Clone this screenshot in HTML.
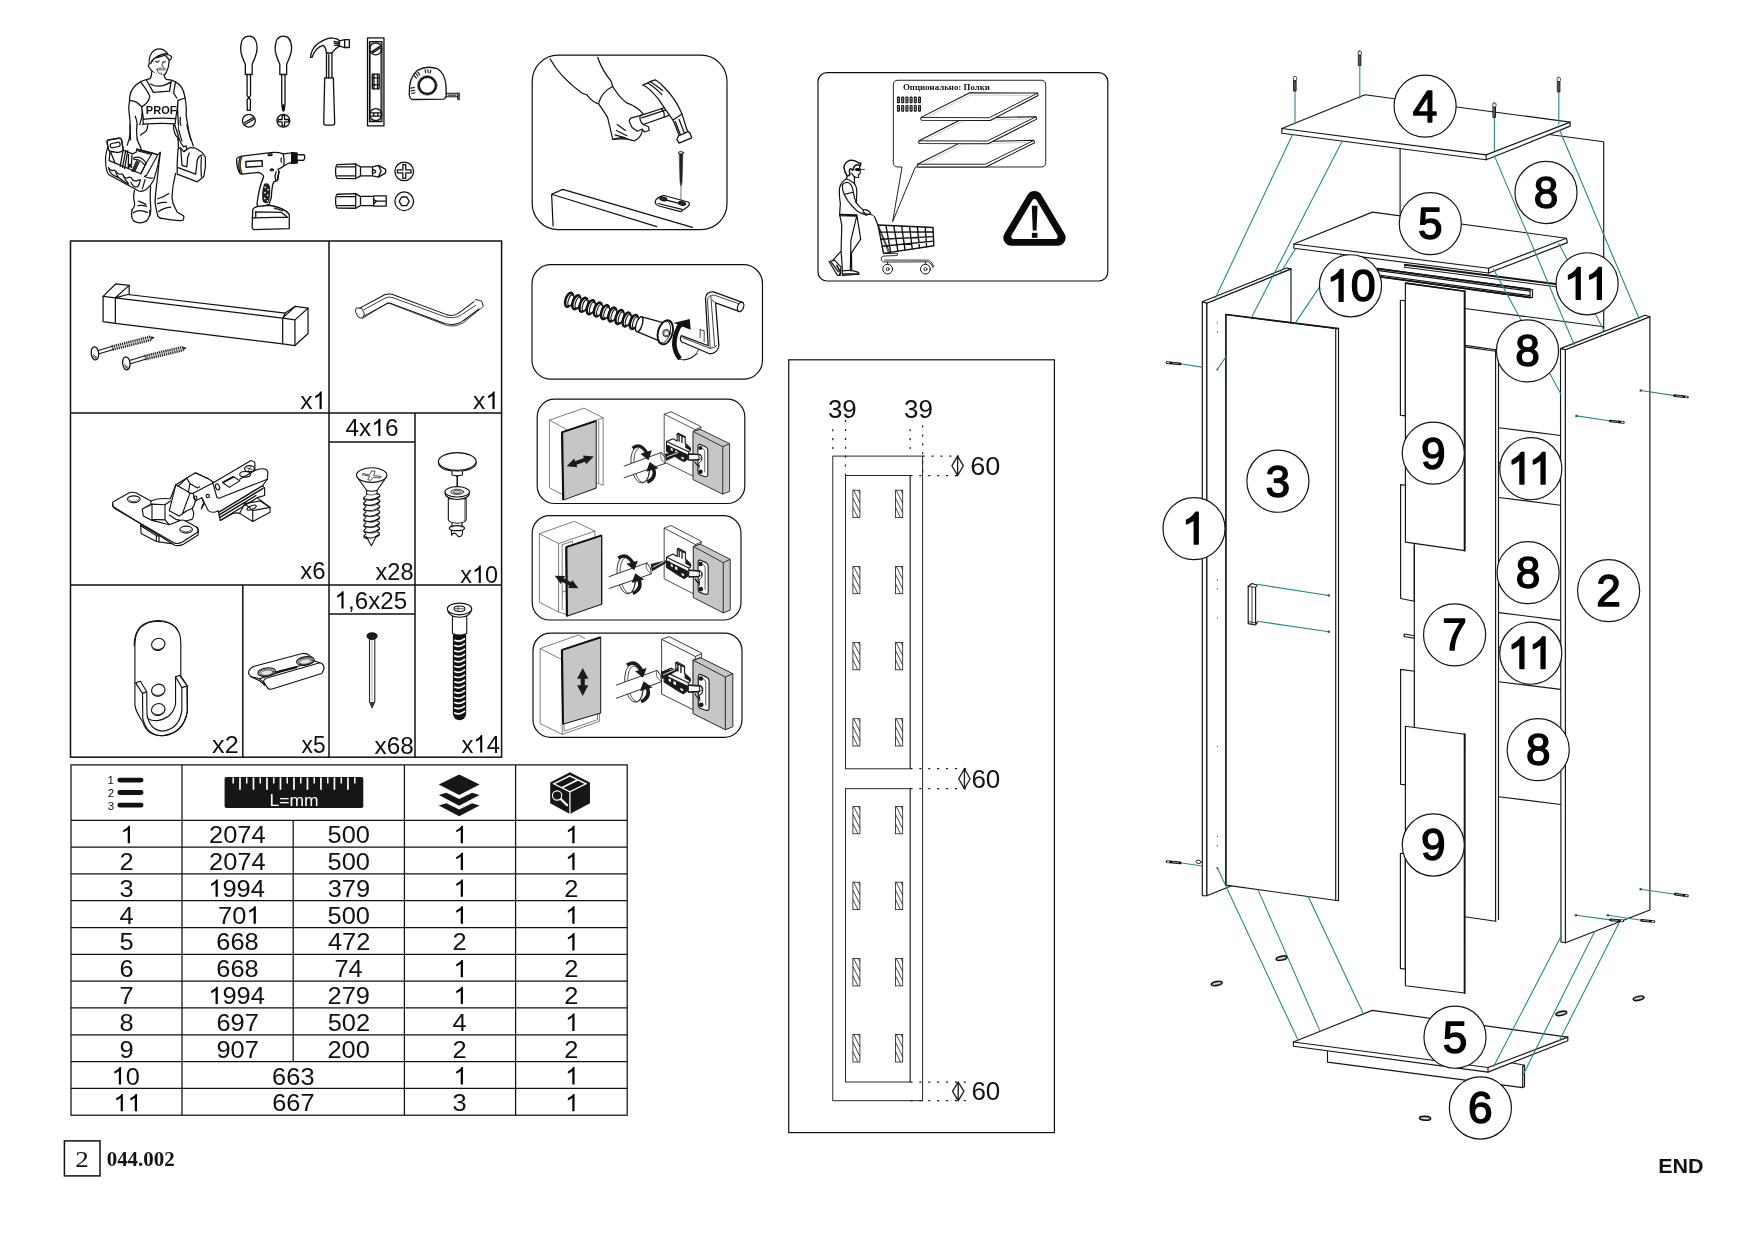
<!DOCTYPE html>
<html><head><meta charset="utf-8"><title>044.002</title>
<style>
html,body{margin:0;padding:0;background:#fff;}
body{width:1754px;height:1241px;overflow:hidden;}
svg{display:block;position:absolute;left:0;top:0;will-change:transform;}
text{font-family:"Liberation Sans",sans-serif;fill:#111;}
.s{font-family:"Liberation Serif",serif;}
.k{fill:none;stroke:#111;stroke-width:1.2;stroke-linejoin:round;stroke-linecap:round;}
.t{fill:none;stroke:#111;stroke-width:2;}
.w{fill:#fff;stroke:#111;stroke-width:1.2;stroke-linejoin:round;}
</style></head><body>
<svg width="1754" height="1241" viewBox="0 0 1754 1241">
<rect width="1754" height="1241" fill="#fff"/>
<g id="hw" fill="none" stroke="#111" stroke-width="1.5">
<rect x="70.5" y="241" width="431.1" height="516.2"/>
<path d="M70.5 413H501.6M70.5 584.9H501.6M329 241V757.2M415 413V757.2M242.8 584.8V757.2"/>
<path d="M329 442H415M329 614H415" stroke-width="1.3"/>
</g>
<g transform="translate(300.19 409.00) scale(1.019 1)"><text x="0.00" y="0" font-size="24.2">x</text><path transform="translate(12.10 0) scale(0.01182 -0.01182)" d="M763 0H583V1147Q518 1085 412.5 1023T223 930V1104Q373 1174.5 485.5 1275T645 1470H763Z"/></g>
<g transform="translate(473.09 409.00) scale(1.019 1)"><text x="0.00" y="0" font-size="24.2">x</text><path transform="translate(12.10 0) scale(0.01182 -0.01182)" d="M763 0H583V1147Q518 1085 412.5 1023T223 930V1104Q373 1174.5 485.5 1275T645 1470H763Z"/></g>
<g transform="translate(300.20 578.50) scale(0.992 1)"><text x="0.00 12.10" y="0" font-size="24.2">x6</text></g>
<g transform="translate(375.51 579.90) scale(0.975 1)"><text x="0.00 12.10 25.56" y="0" font-size="24.2">x28</text></g>
<g transform="translate(460.31 583.00) scale(0.971 1)"><text x="0.00" y="0" font-size="24.2">x</text><path transform="translate(12.10 0) scale(0.01182 -0.01182)" d="M763 0H583V1147Q518 1085 412.5 1023T223 930V1104Q373 1174.5 485.5 1275T645 1470H763Z"/><text x="25.56" y="0" font-size="24.2">0</text></g>
<g transform="translate(212.09 753.20) scale(1.041 1)"><text x="0.00 12.10" y="0" font-size="24.2">x2</text></g>
<g transform="translate(301.52 753.20) scale(0.940 1)"><text x="0.00 12.10" y="0" font-size="24.2">x5</text></g>
<g transform="translate(374.50 753.80) scale(1.004 1)"><text x="0.00 12.10 25.56" y="0" font-size="24.2">x68</text></g>
<g transform="translate(461.50 752.50) scale(0.984 1)"><text x="0.00" y="0" font-size="24.2">x</text><path transform="translate(12.10 0) scale(0.01182 -0.01182)" d="M763 0H583V1147Q518 1085 412.5 1023T223 930V1104Q373 1174.5 485.5 1275T645 1470H763Z"/><text x="25.56" y="0" font-size="24.2">4</text></g>
<g transform="translate(345.55 436.10) scale(1.008 1)"><text x="0.00 13.46" y="0" font-size="24.2">4x</text><path transform="translate(25.56 0) scale(0.01182 -0.01182)" d="M763 0H583V1147Q518 1085 412.5 1023T223 930V1104Q373 1174.5 485.5 1275T645 1470H763Z"/><text x="39.02" y="0" font-size="24.2">6</text></g>
<g transform="translate(334.57 608.60) scale(1.000 1)"><path transform="translate(0.00 0) scale(0.01182 -0.01182)" d="M763 0H583V1147Q518 1085 412.5 1023T223 930V1104Q373 1174.5 485.5 1275T645 1470H763Z"/><text x="13.46 20.18 33.64 45.74 59.20" y="0" font-size="24.2">,6x25</text></g>
<g id="pt" fill="none" stroke="#111" stroke-width="1.25">
<rect x="71.0" y="764.9" width="556.2" height="350.31"/>
<path d="M182 764.9V1115.21M404.4 764.9V1115.21M515.6 764.9V1115.21M293.2 820.3V1061.59M71.0 820.30H627.2M71.0 847.11H627.2M71.0 873.92H627.2M71.0 900.73H627.2M71.0 927.54H627.2M71.0 954.35H627.2M71.0 981.16H627.2M71.0 1007.97H627.2M71.0 1034.78H627.2M71.0 1061.59H627.2M71.0 1088.40H627.2"/>
</g>
<g transform="translate(120.48 843.21) scale(1.050 1)"><path transform="translate(0.00 0) scale(0.01182 -0.01182)" d="M763 0H583V1147Q518 1085 412.5 1023T223 930V1104Q373 1174.5 485.5 1275T645 1470H763Z"/></g>
<g transform="translate(209.06 843.21) scale(1.050 1)"><text x="0.00 13.46 26.92 40.38" y="0" font-size="24.2">2074</text></g>
<g transform="translate(327.59 843.21) scale(1.050 1)"><text x="0.00 13.46 26.92" y="0" font-size="24.2">500</text></g>
<g transform="translate(453.48 843.21) scale(1.050 1)"><path transform="translate(0.00 0) scale(0.01182 -0.01182)" d="M763 0H583V1147Q518 1085 412.5 1023T223 930V1104Q373 1174.5 485.5 1275T645 1470H763Z"/></g>
<g transform="translate(565.08 843.21) scale(1.050 1)"><path transform="translate(0.00 0) scale(0.01182 -0.01182)" d="M763 0H583V1147Q518 1085 412.5 1023T223 930V1104Q373 1174.5 485.5 1275T645 1470H763Z"/></g>
<g transform="translate(119.55 870.02) scale(1.050 1)"><text x="0.00" y="0" font-size="24.2">2</text></g>
<g transform="translate(209.06 870.02) scale(1.050 1)"><text x="0.00 13.46 26.92 40.38" y="0" font-size="24.2">2074</text></g>
<g transform="translate(327.59 870.02) scale(1.050 1)"><text x="0.00 13.46 26.92" y="0" font-size="24.2">500</text></g>
<g transform="translate(453.48 870.02) scale(1.050 1)"><path transform="translate(0.00 0) scale(0.01182 -0.01182)" d="M763 0H583V1147Q518 1085 412.5 1023T223 930V1104Q373 1174.5 485.5 1275T645 1470H763Z"/></g>
<g transform="translate(565.08 870.02) scale(1.050 1)"><path transform="translate(0.00 0) scale(0.01182 -0.01182)" d="M763 0H583V1147Q518 1085 412.5 1023T223 930V1104Q373 1174.5 485.5 1275T645 1470H763Z"/></g>
<g transform="translate(119.61 896.83) scale(1.050 1)"><text x="0.00" y="0" font-size="24.2">3</text></g>
<g transform="translate(208.32 896.83) scale(1.050 1)"><path transform="translate(0.00 0) scale(0.01182 -0.01182)" d="M763 0H583V1147Q518 1085 412.5 1023T223 930V1104Q373 1174.5 485.5 1275T645 1470H763Z"/><text x="13.46 26.92 40.38" y="0" font-size="24.2">994</text></g>
<g transform="translate(327.71 896.83) scale(1.050 1)"><text x="0.00 13.46 26.92" y="0" font-size="24.2">379</text></g>
<g transform="translate(453.48 896.83) scale(1.050 1)"><path transform="translate(0.00 0) scale(0.01182 -0.01182)" d="M763 0H583V1147Q518 1085 412.5 1023T223 930V1104Q373 1174.5 485.5 1275T645 1470H763Z"/></g>
<g transform="translate(564.15 896.83) scale(1.050 1)"><text x="0.00" y="0" font-size="24.2">2</text></g>
<g transform="translate(119.61 923.64) scale(1.050 1)"><text x="0.00" y="0" font-size="24.2">4</text></g>
<g transform="translate(218.10 923.64) scale(1.050 1)"><text x="0.00 13.46" y="0" font-size="24.2">70</text><path transform="translate(26.92 0) scale(0.01182 -0.01182)" d="M763 0H583V1147Q518 1085 412.5 1023T223 930V1104Q373 1174.5 485.5 1275T645 1470H763Z"/></g>
<g transform="translate(327.59 923.64) scale(1.050 1)"><text x="0.00 13.46 26.92" y="0" font-size="24.2">500</text></g>
<g transform="translate(453.48 923.64) scale(1.050 1)"><path transform="translate(0.00 0) scale(0.01182 -0.01182)" d="M763 0H583V1147Q518 1085 412.5 1023T223 930V1104Q373 1174.5 485.5 1275T645 1470H763Z"/></g>
<g transform="translate(565.08 923.64) scale(1.050 1)"><path transform="translate(0.00 0) scale(0.01182 -0.01182)" d="M763 0H583V1147Q518 1085 412.5 1023T223 930V1104Q373 1174.5 485.5 1275T645 1470H763Z"/></g>
<g transform="translate(119.55 950.45) scale(1.050 1)"><text x="0.00" y="0" font-size="24.2">5</text></g>
<g transform="translate(216.32 950.45) scale(1.050 1)"><text x="0.00 13.46 26.92" y="0" font-size="24.2">668</text></g>
<g transform="translate(327.97 950.45) scale(1.050 1)"><text x="0.00 13.46 26.92" y="0" font-size="24.2">472</text></g>
<g transform="translate(452.55 950.45) scale(1.050 1)"><text x="0.00" y="0" font-size="24.2">2</text></g>
<g transform="translate(565.08 950.45) scale(1.050 1)"><path transform="translate(0.00 0) scale(0.01182 -0.01182)" d="M763 0H583V1147Q518 1085 412.5 1023T223 930V1104Q373 1174.5 485.5 1275T645 1470H763Z"/></g>
<g transform="translate(119.45 977.26) scale(1.050 1)"><text x="0.00" y="0" font-size="24.2">6</text></g>
<g transform="translate(216.32 977.26) scale(1.050 1)"><text x="0.00 13.46 26.92" y="0" font-size="24.2">668</text></g>
<g transform="translate(334.40 977.26) scale(1.050 1)"><text x="0.00 13.46" y="0" font-size="24.2">74</text></g>
<g transform="translate(453.48 977.26) scale(1.050 1)"><path transform="translate(0.00 0) scale(0.01182 -0.01182)" d="M763 0H583V1147Q518 1085 412.5 1023T223 930V1104Q373 1174.5 485.5 1275T645 1470H763Z"/></g>
<g transform="translate(564.15 977.26) scale(1.050 1)"><text x="0.00" y="0" font-size="24.2">2</text></g>
<g transform="translate(119.55 1004.07) scale(1.050 1)"><text x="0.00" y="0" font-size="24.2">7</text></g>
<g transform="translate(208.32 1004.07) scale(1.050 1)"><path transform="translate(0.00 0) scale(0.01182 -0.01182)" d="M763 0H583V1147Q518 1085 412.5 1023T223 930V1104Q373 1174.5 485.5 1275T645 1470H763Z"/><text x="13.46 26.92 40.38" y="0" font-size="24.2">994</text></g>
<g transform="translate(327.55 1004.07) scale(1.050 1)"><text x="0.00 13.46 26.92" y="0" font-size="24.2">279</text></g>
<g transform="translate(453.48 1004.07) scale(1.050 1)"><path transform="translate(0.00 0) scale(0.01182 -0.01182)" d="M763 0H583V1147Q518 1085 412.5 1023T223 930V1104Q373 1174.5 485.5 1275T645 1470H763Z"/></g>
<g transform="translate(564.15 1004.07) scale(1.050 1)"><text x="0.00" y="0" font-size="24.2">2</text></g>
<g transform="translate(119.55 1030.88) scale(1.050 1)"><text x="0.00" y="0" font-size="24.2">8</text></g>
<g transform="translate(216.42 1030.88) scale(1.050 1)"><text x="0.00 13.46 26.92" y="0" font-size="24.2">697</text></g>
<g transform="translate(327.74 1030.88) scale(1.050 1)"><text x="0.00 13.46 26.92" y="0" font-size="24.2">502</text></g>
<g transform="translate(452.61 1030.88) scale(1.050 1)"><text x="0.00" y="0" font-size="24.2">4</text></g>
<g transform="translate(565.08 1030.88) scale(1.050 1)"><path transform="translate(0.00 0) scale(0.01182 -0.01182)" d="M763 0H583V1147Q518 1085 412.5 1023T223 930V1104Q373 1174.5 485.5 1275T645 1470H763Z"/></g>
<g transform="translate(119.52 1057.69) scale(1.050 1)"><text x="0.00" y="0" font-size="24.2">9</text></g>
<g transform="translate(216.45 1057.69) scale(1.050 1)"><text x="0.00 13.46 26.92" y="0" font-size="24.2">907</text></g>
<g transform="translate(327.46 1057.69) scale(1.050 1)"><text x="0.00 13.46 26.92" y="0" font-size="24.2">200</text></g>
<g transform="translate(452.55 1057.69) scale(1.050 1)"><text x="0.00" y="0" font-size="24.2">2</text></g>
<g transform="translate(564.15 1057.69) scale(1.050 1)"><text x="0.00" y="0" font-size="24.2">2</text></g>
<g transform="translate(111.58 1084.50) scale(1.050 1)"><path transform="translate(0.00 0) scale(0.01182 -0.01182)" d="M763 0H583V1147Q518 1085 412.5 1023T223 930V1104Q373 1174.5 485.5 1275T645 1470H763Z"/><text x="13.46" y="0" font-size="24.2">0</text></g>
<g transform="translate(272.12 1084.50) scale(1.050 1)"><text x="0.00 13.46 26.92" y="0" font-size="24.2">663</text></g>
<g transform="translate(453.48 1084.50) scale(1.050 1)"><path transform="translate(0.00 0) scale(0.01182 -0.01182)" d="M763 0H583V1147Q518 1085 412.5 1023T223 930V1104Q373 1174.5 485.5 1275T645 1470H763Z"/></g>
<g transform="translate(565.08 1084.50) scale(1.050 1)"><path transform="translate(0.00 0) scale(0.01182 -0.01182)" d="M763 0H583V1147Q518 1085 412.5 1023T223 930V1104Q373 1174.5 485.5 1275T645 1470H763Z"/></g>
<g transform="translate(113.42 1111.31) scale(1.050 1)"><path transform="translate(0.00 0) scale(0.01182 -0.01182)" d="M763 0H583V1147Q518 1085 412.5 1023T223 930V1104Q373 1174.5 485.5 1275T645 1470H763Z"/><path transform="translate(13.46 0) scale(0.01182 -0.01182)" d="M763 0H583V1147Q518 1085 412.5 1023T223 930V1104Q373 1174.5 485.5 1275T645 1470H763Z"/></g>
<g transform="translate(272.22 1111.31) scale(1.050 1)"><text x="0.00 13.46 26.92" y="0" font-size="24.2">667</text></g>
<g transform="translate(452.61 1111.31) scale(1.050 1)"><text x="0.00" y="0" font-size="24.2">3</text></g>
<g transform="translate(565.08 1111.31) scale(1.050 1)"><path transform="translate(0.00 0) scale(0.01182 -0.01182)" d="M763 0H583V1147Q518 1085 412.5 1023T223 930V1104Q373 1174.5 485.5 1275T645 1470H763Z"/></g>
<g stroke="#111" stroke-width="4.8" stroke-linecap="round"><path d="M119.8 780.1H141.1M119.8 792.5H141.1M119.8 805.2H141.1"/></g>
<text x="107.55" y="783.50" font-size="11.5">1</text>
<text x="107.71" y="796.60" font-size="11.5">2</text>
<text x="107.74" y="809.50" font-size="11.5">3</text>
<rect x="224.6" y="777" width="138.7" height="31.1" rx="1.8" fill="#161616"/>
<path d="M240.00 777.6V789.8M253.49 777.6V789.8M266.98 777.6V789.8M280.47 777.6V789.8M293.96 777.6V789.8M307.45 777.6V789.8M320.94 777.6V789.8M334.43 777.6V789.8M347.92 777.6V789.8" stroke="#fff" stroke-width="1.7" fill="none"/>
<path d="M233.20 777.6V783.4M246.71 777.6V783.4M260.22 777.6V783.4M273.73 777.6V783.4M287.24 777.6V783.4M300.75 777.6V783.4M314.26 777.6V783.4M327.77 777.6V783.4M341.28 777.6V783.4M354.79 777.6V783.4" stroke="#fff" stroke-width="1.5" fill="none"/>
<text transform="translate(269.51 805.70) scale(1.048 1)" font-size="16.7" style="fill:#fff">L=mm</text>
<g fill="#161616"><path d="M459.2 774.4L479.6 784.4L459.2 795.1L438.8 784.4Z"/><path d="M438.8 795.1L446.4 792.8L459.2 799.1L472.1 792.8L479.6 795.1L459.2 805.8Z"/><path d="M438.8 805.5L446.4 803.3L459.2 809.5L472.1 803.3L479.6 805.5L459.2 816.2Z"/></g>
<g transform="translate(410 765) scale(0.12542)"><path d="M1275 58L1435 140V305L1275 390L1118 305V140Z" fill="#161616"/><g fill="none" stroke="#fff" stroke-width="11"><path d="M1275 215V392" stroke-width="10"/><path d="M1275 86L1403 150L1275 214L1147 150Z"/><path d="M1211 182L1339 118" stroke-width="13"/><circle cx="1173" cy="243" r="37" stroke-width="9"/><path d="M1203 272L1252 320" stroke-width="17" stroke-linecap="round"/></g></g>
<rect x="64.4" y="1140.9" width="35.6" height="35" fill="none" stroke="#111" stroke-width="1.5"/>
<text class="s" transform="translate(75.25 1167.10) scale(1.177 1)" font-size="23">2</text>
<text class="s" x="106.72" y="1166.30" font-size="20.9" font-weight="bold">044.002</text>
<text transform="translate(1658.15 1173.00) scale(1.085 1)" font-size="19.8" font-weight="bold">END</text>
<g fill="none" stroke="#111" stroke-width="1.2">
<rect x="532.2" y="55.2" width="194.8" height="174.4" rx="26"/>
<rect x="532" y="264.7" width="230.5" height="114.5" rx="19"/>
<rect x="537.2" y="399.2" width="207.6" height="104.3" rx="17.5"/>
<rect x="532.2" y="515.6" width="208.8" height="104.4" rx="17.5"/>
<rect x="533" y="633.1" width="209.0" height="104.2" rx="17.5"/>
<rect x="818" y="72.6" width="289.8" height="208.4" rx="9"/>
<rect x="788.7" y="359.8" width="265.7" height="772.8"/>
</g>
<g transform="translate(95 40) scale(0.08058)" fill="none" stroke="#111" stroke-width="15.5" stroke-linejoin="round" stroke-linecap="round">
<path d="M672 300Q662 180 740 125Q800 95 850 122Q890 148 905 180Q945 190 952 214Q946 246 922 250Q918 340 885 400Q868 442 820 452Q770 440 715 395Q690 372 660 320Z" fill="#fff"/>
<path d="M700 262Q780 178 880 168M905 182Q880 185 735 228L690 292M922 250Q905 222 872 192"/>
<path d="M745 268L800 260M760 276Q775 288 792 272M846 268Q860 260 876 268M850 282L868 282M838 275L832 322L850 330" stroke-width="9"/>
<path d="M760 366Q790 345 830 348Q865 345 880 360M790 372L865 370M768 366Q775 412 822 432M820 408L826 440" stroke-width="9"/>
<path d="M703 395Q706 450 685 480Q600 500 565 520Q450 580 432 700L428 755Q410 850 425 920Q440 1000 435 1100L440 1300L520 1300L545 1100Q560 1020 580 960L600 975L595 985L600 1045L560 1100L520 1300L1060 1300L1040 1060L995 1040L1000 985Q1020 870 1030 750Q1020 850 1030 960Q1040 1050 1030 1120L1010 1200L1190 1300L1165 1140Q1150 1050 1130 930Q1140 850 1118 720L1112 690Q1090 570 1000 520Q960 495 885 490Q865 470 860 445" fill="#fff" stroke="none"/>
<path d="M703 395Q706 450 685 480Q600 500 565 520Q450 580 432 700L428 755Q410 850 425 920Q440 1000 435 1100L440 1241"/>
<path d="M860 445Q865 470 885 490Q960 495 1000 520Q1090 570 1112 690L1118 720L1030 750"/>
<path d="M570 525Q660 640 680 700Q665 780 580 830M640 500L725 650L925 635L945 510M690 545Q800 612 945 520M1000 520Q985 600 975 660L1015 720M428 755Q500 740 580 830"/>
<path d="M580 830Q590 900 580 960Q560 1020 545 1100L520 1241M500 945Q520 1000 525 1060M580 830L600 975"/>
<path d="M1118 720Q1140 850 1130 930Q1150 1050 1165 1140L1190 1241M1030 750Q1020 850 1030 960Q1040 1050 1030 1120M1060 960Q1050 1020 1065 1060M1030 750Q1020 870 1000 985"/>
<path d="M595 985Q800 960 1000 975L995 1040Q800 1030 600 1045Z" fill="#fff"/>
<path d="M600 1045L560 1100L520 1241M655 1065Q650 1110 635 1135L565 1175M985 1050Q980 1100 990 1150L1030 1241"/>
</g>
<text transform="translate(145.86 114.10) scale(0.967 1)" font-size="11.4" font-weight="bold">PROF</text>
<g transform="translate(95 125) scale(0.08058)" fill="none" stroke="#111" stroke-width="15.5" stroke-linejoin="round" stroke-linecap="round">
<path d="M520 0L490 810Q470 900 490 960Q500 1010 460 1050Q440 1150 480 1190Q560 1240 640 1190Q690 1130 680 1060L690 1000Q680 900 745 960Q760 1060 780 1130Q800 1160 830 1160Q960 1190 1090 1185Q1110 1150 1100 1130L1020 1080L1000 1040Q960 980 955 900Q960 750 1000 600L1030 0Z" fill="#fff" stroke="none"/>
<path d="M435 0Q445 100 425 170L400 250M520 0Q510 120 530 200Q560 260 575 300M655 0Q650 50 635 75L565 125"/>
<path d="M1020 470L1030 300L1060 280L1100 330L1180 280L1240 285Q1340 330 1370 400Q1380 520 1350 640L1270 705L1020 610Z" fill="#fff"/>
<path d="M1065 300L1080 500L1140 520L1150 400L1170 350M1030 530L1250 610L1270 430Q1290 380 1330 370M1320 400Q1310 520 1320 640M1100 270L1130 260L1140 300L1110 330"/>
<path d="M1140 0Q1160 100 1200 200L1220 260M975 0Q970 80 1010 140L1040 160Q1060 230 1100 270M1040 60Q1060 150 1080 200M990 0L1030 120L1035 290"/>
<path d="M490 810Q470 900 490 960Q500 1010 460 1050M690 760Q680 900 690 1000Q700 1080 680 1130M810 340Q790 500 770 700Q750 850 745 960Q760 1060 780 1130M1000 600Q960 750 955 900Q960 980 1000 1040L1020 1080L1100 1130"/>
<path d="M780 915Q860 890 915 850M775 975Q830 955 885 960M790 1075Q850 1030 940 1020M540 945Q590 960 630 985M535 1000Q590 990 640 1010"/>
<path d="M460 1050Q440 1150 480 1190Q560 1240 640 1190Q690 1130 680 1060M475 1090Q550 1040 650 1085M780 1130Q800 1160 830 1160Q960 1190 1090 1185Q1110 1150 1100 1130"/>
</g>
<g transform="translate(100 135) scale(0.05238)" fill="none" stroke="#111" stroke-width="22" stroke-linejoin="round" stroke-linecap="round">
<path d="M150 230Q90 400 110 560Q120 700 170 760L740 1070Q800 1090 880 1040Q960 980 1030 850L1100 600L1150 330L1100 380L1000 345L700 270L690 330L620 360L445 290L410 85Q400 58 370 60L160 95Q130 100 135 130Z" fill="#fff"/>
<path d="M135 130Q130 100 160 95L370 60Q400 58 410 85L445 290Q400 330 340 335L190 310Q165 300 160 270Z" stroke-width="26"/>
<rect x="195" y="150" width="190" height="82" rx="40" transform="rotate(-12 290 190)" stroke-width="24"/>
<path d="M190 310L175 490L780 740L880 540M200 320L290 540M440 300L385 600" stroke-width="24"/>
<path d="M490 300L430 620M530 300L470 640M545 370L540 640M610 390L600 560" stroke-width="24"/>
<path d="M545 560L600 612M600 560L545 612" stroke-width="34"/>
<path d="M640 440Q760 380 880 530L850 570Q760 450 650 470ZM700 490L610 690M750 510L660 700M725 500L635 695"/>
<path d="M700 270L1000 345L880 540M715 300L960 365M1000 345L1100 380L890 770L850 790M880 540L780 740"/>
<path d="M160 620Q190 660 230 680Q270 660 300 690Q320 740 380 750Q420 730 440 760Q450 820 520 820Q570 790 600 820Q620 880 700 880Q750 850 770 860"/>
<path d="M165 640Q200 760 300 790Q350 810 410 850M300 700Q320 800 400 850Q480 910 550 940M445 770Q470 860 540 920M590 900Q640 1010 720 990Q760 920 770 860M850 790Q920 830 1010 820M860 850L810 1030"/>
</g>
<g transform="translate(230 30) scale(0.13684)" fill="none" stroke="#111" stroke-width="9.6" stroke-linejoin="round" stroke-linecap="round">
<path d="M112 325L112 250Q75 170 78 130Q82 45 138 45Q195 45 198 130Q200 170 162 250L162 325Z"/>
<path d="M125 325V480L150 510L148 588H127L125 510L150 480V325M125 480L150 510"/>
<circle cx="138" cy="663" r="47"/><path d="M104 678L170 640M108 692L174 652"/>
<path d="M112 325L112 250Q75 170 78 130Q82 45 138 45Q195 45 198 130Q200 170 162 250L162 325Z" transform="translate(252 0)"/>
<path d="M378 325V540L385 585H396L402 540V325M390 545V590" /><path d="M382 560L390 592L398 560Z" fill="#111"/>
<circle cx="390" cy="663" r="47"/><path d="M381 626H399V654H428V672H399V700H381V672H352V654H381Z"/>
<path d="M588 200Q598 92 735 58Q790 62 800 80L838 70H872V128H838L800 118Q770 132 745 168H705Q700 122 680 112Q620 132 600 200Z"/>
<path d="M800 80V118M838 70V128M760 84L800 90M762 98L800 102M765 112L800 112M705 168V350M745 168V350M722 180V350"/>
<path d="M692 350H755L765 680Q765 695 750 695H698Q685 695 685 680Z"/>
<rect x="1005" y="58" width="120" height="642"/><rect x="1020" y="85" width="90" height="585"/><rect x="1030" y="95" width="70" height="565" stroke-width="4"/>
<circle cx="1065" cy="138" r="44"/><path d="M1035 160L1095 120M1040 170L1098 132" /><circle cx="1065" cy="618" r="44"/><path d="M1030 605H1100M1030 630H1100M1050 605V630M1080 605V630"/>
<rect x="1040" y="322" width="50" height="108"/><path d="M1052 322V430M1078 322V430M1040 350H1090M1040 400H1090"/>
<path d="M1310 470Q1305 350 1370 295Q1440 255 1520 285Q1570 320 1578 400L1580 470Q1580 500 1560 505L1335 508Q1312 505 1310 470Z"/>
<circle cx="1442" cy="405" r="62" stroke-width="16"/><circle cx="1442" cy="405" r="72" stroke-width="4"/>
<path d="M1580 462H1665M1580 488H1660M1665 458V510M1675 460V510" stroke-width="8"/><path d="M1590 470H1655V482H1590Z" fill="#555" stroke="none"/>
<path d="M1425 290L1430 312M1445 290L1448 312M1468 294L1462 315M1345 332L1362 352M1358 318L1374 338M1372 308L1386 328M1320 425L1348 420M1323 445L1350 440M1328 464L1352 458" stroke-width="8"/>
</g>
<g transform="translate(230 140) scale(0.11973)" fill="none" stroke="#111" stroke-width="10.8" stroke-linejoin="round" stroke-linecap="round">
<path d="M55 160Q60 145 100 135L340 105Q400 100 445 115L500 110L520 105L560 110L565 125L615 122Q625 125 625 150L615 170L565 168L560 190L520 195L500 190L450 215Q430 235 400 245L410 265Q400 330 395 340L365 350Q350 380 345 480L325 540L240 560L225 540Q240 400 280 310Q285 290 240 270L100 285Q60 280 55 160Z" fill="#fff"/>
<path d="M100 135Q70 205 100 285" stroke="#4a3d10" stroke-width="12"/><path d="M85 145Q62 205 85 280"/>
<path d="M132 180L268 172L270 218L135 228Z" stroke-width="12"/>
<path d="M515 108L560 112V190L515 194Z" fill="#111"/>
<path d="M445 115Q455 160 450 215M385 265Q370 300 380 335L400 330Q395 300 410 265M320 118L350 116V128L320 130ZM335 250Q350 235 365 250Q350 265 335 250M430 150Q420 170 430 185"/>
<path d="M285 365Q330 350 335 400Q340 470 320 525Q280 540 270 500Q262 430 285 365Z" fill="#222" stroke="none"/>
<g fill="#fff" stroke="none"><circle cx="295" cy="395" r="7"/><circle cx="318" cy="415" r="7"/><circle cx="292" cy="440" r="7"/><circle cx="315" cy="462" r="7"/><circle cx="290" cy="488" r="7"/><circle cx="312" cy="508" r="6"/></g>
<path d="M190 580Q200 560 240 555L330 545Q450 565 495 620V740L200 748Q185 745 185 730Z" fill="#fff"/>
<path d="M185 650L480 645M210 600L430 605L480 645M215 605V640M370 570L440 590"/>
<g transform="translate(0 0)">
<path d="M895 205L1050 200L1090 225V300L1050 322L895 320Q882 310 882 260Q882 215 895 205Z" fill="#fff"/>
<path d="M895 225L1050 222M895 300L1050 300M1050 200V322"/>
<path d="M1090 225H1190L1240 212L1300 245V275L1240 310L1190 300H1090M1190 245Q1245 262 1190 280M1240 212L1262 260L1240 310M1190 225V300"/>
<circle cx="1455" cy="262" r="78"/><path d="M1444 205H1468V250H1512V274H1468V320H1444V274H1398V250H1444Z"/>
</g>
<g transform="translate(0 248)">
<path d="M895 205L1050 200L1090 225V300L1050 322L895 320Q882 310 882 260Q882 215 895 205Z" fill="#fff"/>
<path d="M895 225L1050 222M895 300L1050 300M1050 200V322"/>
<path d="M1090 222H1200V218H1305V304H1200V300H1090M1200 222V300M1200 250L1225 262H1305M1200 285L1225 262"/>
<circle cx="1455" cy="264" r="78"/><path d="M1413 264L1434 228H1476L1497 264L1476 300H1434Z"/>
</g>
</g>
<g transform="translate(80 270) scale(0.14253)" fill="none" stroke="#111" stroke-width="8.6" stroke-linejoin="round" stroke-linecap="round">
<path d="M162 185L250 98L345 108V170L335 172L1440 302L1510 255L1600 268V445L1508 530L1422 518L248 375L162 362Z" fill="#fff"/>
<path d="M162 185L248 195L345 108M248 195V375M248 195L1422 338V518M335 172L248 195M1422 338L1440 302M1422 338L1508 350L1600 268M1508 350V530M1422 338L1510 255"/>
<path d="M120 580L225 548" stroke-width="30"/><path d="M120 580L225 548" stroke="#fff" stroke-width="16"/>
<path d="M225 548L500 478" stroke="#222" stroke-width="40" stroke-dasharray="9 6" stroke-linecap="butt"/>
<path d="M225 548L500 478" stroke="#bbb" stroke-width="8" stroke-linecap="butt"/>
<path d="M495 464L525 472L501 492Z" fill="#222" stroke="none"/>
<ellipse cx="105" cy="585" rx="26" ry="46" transform="rotate(-7.1 105 585)" fill="#fff" stroke-width="9"/>
<path d="M93 593Q105 615 119 613M95 607L115 623" stroke-width="6"/>
<path d="M340 650L455 615" stroke-width="30"/><path d="M340 650L455 615" stroke="#fff" stroke-width="16"/>
<path d="M455 615L723 551" stroke="#222" stroke-width="40" stroke-dasharray="9 6" stroke-linecap="butt"/>
<path d="M455 615L723 551" stroke="#bbb" stroke-width="8" stroke-linecap="butt"/>
<path d="M718 537L748 545L724 565Z" fill="#222" stroke="none"/>
<ellipse cx="325" cy="655" rx="26" ry="46" transform="rotate(-6.6 325 655)" fill="#fff" stroke-width="9"/>
<path d="M313 663Q325 685 339 683M315 677L335 693" stroke-width="6"/>
</g>
<g transform="translate(330 270) scale(0.09980)" fill="none" stroke="#111" stroke-width="11.5" stroke-linejoin="round" stroke-linecap="round">
<path d="M300 432L560 292Q592 277 625 292L1160 492Q1240 517 1312 470L1497 332" stroke-width="100" stroke-linecap="butt"/><path d="M300 432L560 292Q592 277 625 292L1160 492Q1240 517 1312 470L1497 332" stroke="#fff" stroke-width="80" stroke-linecap="butt"/>
<path d="M340 398L552 282Q590 262 632 278L1150 468Q1240 495 1318 448L1512 318" stroke-width="8"/>
<path d="M330 482L580 328L1150 548Q1240 582 1335 530L1533 368" stroke-width="8"/>
<path d="M268 380L318 385L345 440L325 485L280 470L255 415Z" fill="#fff" stroke-width="9"/>
<path d="M1460 295L1520 310L1535 365L1497 392L1440 320Z" fill="#fff" stroke="none"/><path d="M1460 295L1520 310L1535 365" stroke-width="9"/>
</g>
<g transform="translate(100 450) scale(0.10832)" fill="none" stroke="#111" stroke-width="10.5" stroke-linejoin="round" stroke-linecap="round">
<path d="M375 690L380 770L520 845L640 862L700 870Z" fill="#fff"/><path d="M520 790V845M545 800V852M375 700L520 790L640 800"/>
<path d="M118 500Q110 480 135 470L270 395Q300 385 330 395L470 470Q540 440 650 450L700 320L880 210L1000 265L1050 300L1390 100Q1420 95 1430 120V190L1470 175Q1540 165 1550 200L1545 270L1500 330L1520 350V420L1450 440L1570 530V575L1410 660L1290 585Q1240 570 1200 600L1110 650L1095 575L1090 560Q1040 590 1000 560L940 440L880 470Q870 520 850 540Q880 590 850 640L790 655L890 710Q915 725 905 785L770 870Q730 890 690 880L118 520Z" fill="#fff"/>
<path d="M118 500Q115 530 135 540L690 860Q720 870 760 850L900 760Q915 725 890 710"/>
<path d="M470 470V500L390 545L400 610L480 650L640 690L740 650Q760 640 790 655M480 500L390 545M480 500L600 505L650 470M480 500V640M600 505V640M480 640L600 645L640 690M640 600L700 640L740 650"/>
<ellipse cx="312" cy="455" rx="58" ry="32"/><path d="M270 462Q312 495 355 462" stroke-width="7"/><ellipse cx="795" cy="735" rx="58" ry="32"/><path d="M752 742Q795 775 838 742" stroke-width="7"/>
<path d="M700 320L640 560L730 610L760 590L830 400L860 400L1050 300M700 320L830 395M720 335L800 260M800 260L830 310L900 350L920 340M830 310L815 395M880 210L1000 265M760 590Q790 560 850 540"/>
<path d="M860 400L880 470M940 440L960 500L935 545L950 500M1040 300L1080 440L1100 445L1545 270M1430 190L1290 270"/>
<circle cx="880" cy="440" r="15"/><circle cx="995" cy="425" r="15"/>
<path d="M1130 300L1230 245L1290 285L1195 345Z"/><path d="M1140 298L1232 250" stroke-width="16"/>
<ellipse cx="1380" cy="172" rx="45" ry="28"/><ellipse cx="1340" cy="225" rx="50" ry="26"/><path d="M1355 165L1405 180M1370 190L1392 155" stroke-width="7"/>
<ellipse cx="1085" cy="340" rx="18" ry="28" transform="rotate(-20 1085 340)"/>
<path d="M1095 575L1500 330M1100 598L1505 355M1108 622L1440 420" stroke-width="13"/><path d="M1110 650L1445 445"/>
<path d="M1290 585L1335 495L1480 470L1570 530M1335 495L1410 560L1570 530M1410 560V660"/>
<ellipse cx="1400" cy="532" rx="45" ry="17" transform="rotate(-22 1400 532)"/>
</g>
<g transform="translate(330 440) scale(0.10472)" fill="none" stroke="#111" stroke-width="10.5" stroke-linejoin="round" stroke-linecap="round">
<ellipse cx="398" cy="545" rx="80.0" ry="30" transform="rotate(-12 398 545)" fill="#fff"/>
<ellipse cx="398" cy="597" rx="79.5" ry="30" transform="rotate(-12 398 597)" fill="#fff"/>
<ellipse cx="398" cy="649" rx="79.0" ry="30" transform="rotate(-12 398 649)" fill="#fff"/>
<ellipse cx="398" cy="701" rx="78.5" ry="30" transform="rotate(-12 398 701)" fill="#fff"/>
<ellipse cx="398" cy="753" rx="78.0" ry="30" transform="rotate(-12 398 753)" fill="#fff"/>
<ellipse cx="398" cy="805" rx="77.5" ry="30" transform="rotate(-12 398 805)" fill="#fff"/>
<ellipse cx="398" cy="857" rx="77.0" ry="30" transform="rotate(-12 398 857)" fill="#fff"/>
<ellipse cx="398" cy="909" rx="76.5" ry="30" transform="rotate(-12 398 909)" fill="#fff"/>
<path d="M348 480V900L395 1010L448 900V480Z" fill="#fff" stroke="none"/><path d="M345 920L395 1010L442 920"/>
<path d="M322.0 559Q398 593 474.0 537" /><path d="M352 519Q410 535 446 511" stroke-width="7"/>
<path d="M322.5 611Q398 645 473.5 589" /><path d="M352 571Q410 587 446 563" stroke-width="7"/>
<path d="M323.0 663Q398 697 473.0 641" /><path d="M352 623Q410 639 446 615" stroke-width="7"/>
<path d="M323.5 715Q398 749 472.5 693" /><path d="M352 675Q410 691 446 667" stroke-width="7"/>
<path d="M324.0 767Q398 801 472.0 745" /><path d="M352 727Q410 743 446 719" stroke-width="7"/>
<path d="M324.5 819Q398 853 471.5 797" /><path d="M352 779Q410 795 446 771" stroke-width="7"/>
<path d="M325.0 871Q398 905 471.0 849" /><path d="M352 831Q410 847 446 823" stroke-width="7"/>
<path d="M325.5 923Q398 957 470.5 901" /><path d="M352 883Q410 899 446 875" stroke-width="7"/>
<path d="M258 352L350 480V520M540 352L450 480V520M350 480Q400 500 450 480" fill="none"/>
<path d="M255 345Q400 445 542 345" /><ellipse cx="398" cy="335" rx="145" ry="70" fill="#fff"/>
<path d="M318 320L375 335L400 295L430 298L418 340L490 348L480 362L415 358L385 385L360 378L378 345L312 332Z" stroke-width="7"/>
<path d="M1035 215Q1040 292 1215 300Q1390 292 1397 215" fill="#fff"/><ellipse cx="1215" cy="205" rx="180" ry="85" fill="#fff" stroke-width="11"/>
<path d="M1165 300V335Q1215 350 1265 335V300" fill="#fff"/><path d="M1215 345V450" stroke-width="15"/>
<path d="M1130 560V765Q1140 790 1215 795Q1290 790 1300 765V560Z" fill="#fff"/><path d="M1288 565V770" stroke-width="6"/>
<path d="M1098 505Q1100 560 1215 568Q1330 560 1333 505" fill="#fff"/><ellipse cx="1215" cy="495" rx="118" ry="50" fill="#fff"/>
<ellipse cx="1215" cy="495" rx="62" ry="25" fill="#ccc" stroke-width="7"/><path d="M1180 495L1198 480H1235L1250 495L1235 510H1198Z" stroke-width="6"/>
<path d="M1165 795V830M1260 795V830"/><ellipse cx="1212" cy="842" rx="72" ry="24" stroke-width="12"/>
<path d="M1160 865V908Q1190 870 1215 910Q1240 940 1265 900V865"/>
</g>
<g transform="translate(110 600) scale(0.13113)" fill="none" stroke="#111" stroke-width="8.6" stroke-linejoin="round" stroke-linecap="round">
<path d="M190 340Q190 165 370 162Q540 165 540 330V580L588 655L590 850Q560 1020 400 1035Q280 1035 250 930Q195 850 190 800Z" fill="#fff"/>
<path d="M184 350Q184 158 372 156Q470 160 515 230"/>
<ellipse cx="368" cy="338" rx="52" ry="45" transform="rotate(-20 368 338)"/><path d="M325 363Q365 396 410 360" stroke-width="6"/>
<ellipse cx="368" cy="688" rx="52" ry="45" transform="rotate(-20 368 688)"/><path d="M325 713Q365 746 410 710" stroke-width="6"/>
<ellipse cx="368" cy="835" rx="52" ry="45" transform="rotate(-20 368 835)"/><path d="M325 860Q365 893 410 857" stroke-width="6"/>
<path d="M195 632L232 620L280 700L248 712ZM500 585L532 575L588 655L548 668Z" fill="#fff"/>
<path d="M248 712L250 900Q280 1035 400 1035Q560 1020 590 850L588 655M280 700L282 870Q300 990 400 1000Q530 985 548 840V668M500 585V790Q480 900 360 920Q300 920 285 900"/>
<path d="M1060 540Q1070 515 1100 505L1460 410Q1500 400 1530 430L1560 465L1600 478Q1640 490 1630 530L1615 560L1230 680Q1205 685 1195 660L1180 640L1140 600L1075 585Q1050 570 1060 540Z" fill="#fff"/>
<path d="M1140 600L1560 465M1180 640Q1160 612 1190 597L1600 478M1265 548L1420 508M1268 556L1424 516M1075 585L1140 615L1180 650" />
<ellipse cx="1195" cy="550" rx="68" ry="32" transform="rotate(-8 1195 550)" fill="#fff"/><ellipse cx="1195" cy="554" rx="46" ry="20" transform="rotate(-8 1195 550)" fill="#e4e4e4" stroke="#444" stroke-width="6"/><ellipse cx="1195" cy="552" rx="56" ry="26" transform="rotate(-8 1195 550)" stroke-width="5"/>
<ellipse cx="1490" cy="465" rx="68" ry="32" transform="rotate(-8 1490 465)" fill="#fff"/><ellipse cx="1490" cy="469" rx="46" ry="20" transform="rotate(-8 1490 465)" fill="#e4e4e4" stroke="#444" stroke-width="6"/><ellipse cx="1490" cy="467" rx="56" ry="26" transform="rotate(-8 1490 465)" stroke-width="5"/>
</g>
<g transform="translate(330 590) scale(0.11283)" fill="none" stroke="#111" stroke-width="9.5" stroke-linejoin="round" stroke-linecap="round">
<path d="M350 435V990L373 1045L397 990V435Z" fill="#fff" stroke="#222"/><path d="M372 440V985" stroke="#888" stroke-width="6"/><path d="M355 992L373 1040L392 992Z" fill="#333" stroke="none"/>
<ellipse cx="373" cy="408" rx="45" ry="28" fill="#1a1a1a"/>
<path d="M1148 410V1095" stroke="#111" stroke-width="118"/>
<path d="M1106 446Q1150 466 1192 432" stroke="#fff" stroke-width="15"/>
<path d="M1106 492Q1150 512 1192 478" stroke="#fff" stroke-width="15"/>
<path d="M1106 538Q1150 558 1192 524" stroke="#fff" stroke-width="15"/>
<path d="M1106 584Q1150 604 1192 570" stroke="#fff" stroke-width="15"/>
<path d="M1106 630Q1150 650 1192 616" stroke="#fff" stroke-width="15"/>
<path d="M1106 676Q1150 696 1192 662" stroke="#fff" stroke-width="15"/>
<path d="M1106 722Q1150 742 1192 708" stroke="#fff" stroke-width="15"/>
<path d="M1106 768Q1150 788 1192 754" stroke="#fff" stroke-width="15"/>
<path d="M1106 814Q1150 834 1192 800" stroke="#fff" stroke-width="15"/>
<path d="M1106 860Q1150 880 1192 846" stroke="#fff" stroke-width="15"/>
<path d="M1106 906Q1150 926 1192 892" stroke="#fff" stroke-width="15"/>
<path d="M1106 952Q1150 972 1192 938" stroke="#fff" stroke-width="15"/>
<path d="M1106 998Q1150 1018 1192 984" stroke="#fff" stroke-width="15"/>
<path d="M1106 1044Q1150 1064 1192 1030" stroke="#fff" stroke-width="15"/>
<path d="M1106 1090Q1150 1110 1192 1076" stroke="#fff" stroke-width="15"/>
<path d="M1085 235V385Q1148 415 1212 385V235Z" fill="#fff"/>
<path d="M1042 180Q1060 238 1148 242Q1235 238 1255 180" fill="#fff"/><ellipse cx="1148" cy="168" rx="108" ry="52" fill="#fff" stroke-width="10"/>
<ellipse cx="1148" cy="166" rx="48" ry="24"/><path d="M1112 166H1184M1135 148V184" stroke-width="6"/>
</g>
<g id="paneldrill" fill="none" stroke="#1c1c1c" stroke-width="0.95">
<rect x="832.8" y="456.1" width="89.8" height="644.6"/>
<rect x="845.5" y="475.5" width="64.9" height="293.3"/>
<rect x="845.5" y="788.7" width="64.9" height="293.3"/>
<path d="M910.2 475.5V768.8M910.2 788.7V1082" stroke="#555" stroke-width="1.4"/>
<g stroke-dasharray="2.1 6.8" stroke-width="1.25">
<path d="M832.8 429.2V456M845.5 420V475.5M910.2 429.2V456M922.6 425.5V475"/>
<path d="M922.6 456.1H959M910.4 475.5H962M910.4 768.7H970M910.4 788.7H970M910.4 1082H970M910.4 1100.7H970"/>
</g>
<path d="M957.6 456.1L963.3000000000001 465.8L957.6 475.5L951.9 465.8ZM957.6 456.1V475.5" stroke-width="1.3"/>
<path d="M964.4 768.7L970.1 778.7L964.4 788.7L958.6999999999999 778.7ZM964.4 768.7V788.7" stroke-width="1.3"/>
<path d="M958.2 1082L963.9000000000001 1091.35L958.2 1100.7L952.5 1091.35ZM958.2 1082V1100.7" stroke-width="1.3"/>
<rect x="852.9" y="490.2" width="7.0" height="27.4" stroke-width="0.8"/>
<path d="M858.3 490.2L859.9 493.3M853.6 490.2L859.9 502.7M852.9 498.1L859.9 512.1M852.9 507.5L858.0 517.6" stroke-width="0.8"/>
<rect x="895.5" y="490.2" width="7.2" height="27.4" stroke-width="0.8"/>
<path d="M901.0 490.2L902.7 493.7M896.2 490.2L902.7 503.1M895.5 498.1L902.7 512.5M895.5 507.5L900.5 517.6" stroke-width="0.8"/>
<rect x="852.9" y="566.4" width="7.0" height="27.3" stroke-width="0.8"/>
<path d="M858.3 566.4L859.9 569.5M853.6 566.4L859.9 578.9M852.9 574.3L859.9 588.3M852.9 583.7L857.9 593.7" stroke-width="0.8"/>
<rect x="895.5" y="566.4" width="7.2" height="27.3" stroke-width="0.8"/>
<path d="M901.0 566.4L902.7 569.9M896.2 566.4L902.7 579.3M895.5 574.3L902.7 588.7M895.5 583.7L900.5 593.7" stroke-width="0.8"/>
<rect x="852.9" y="642.5" width="7.0" height="27.3" stroke-width="0.8"/>
<path d="M858.3 642.5L859.9 645.6M853.6 642.5L859.9 655.0M852.9 650.4L859.9 664.4M852.9 659.8L857.9 669.8" stroke-width="0.8"/>
<rect x="895.5" y="642.5" width="7.2" height="27.3" stroke-width="0.8"/>
<path d="M901.0 642.5L902.7 646.0M896.2 642.5L902.7 655.4M895.5 650.4L902.7 664.8M895.5 659.8L900.5 669.8" stroke-width="0.8"/>
<rect x="852.9" y="718.7" width="7.0" height="27.3" stroke-width="0.8"/>
<path d="M858.3 718.7L859.9 721.8M853.6 718.7L859.9 731.2M852.9 726.6L859.9 740.6M852.9 736.0L857.9 746.0" stroke-width="0.8"/>
<rect x="895.5" y="718.7" width="7.2" height="27.3" stroke-width="0.8"/>
<path d="M901.0 718.7L902.7 722.2M896.2 718.7L902.7 731.6M895.5 726.6L902.7 741.0M895.5 736.0L900.5 746.0" stroke-width="0.8"/>
<rect x="852.9" y="806.4" width="7.0" height="27.4" stroke-width="0.8"/>
<path d="M858.3 806.4L859.9 809.5M853.6 806.4L859.9 818.9M852.9 814.3L859.9 828.3M852.9 823.7L858.0 833.8" stroke-width="0.8"/>
<rect x="895.5" y="806.4" width="7.2" height="27.4" stroke-width="0.8"/>
<path d="M901.0 806.4L902.7 809.9M896.2 806.4L902.7 819.3M895.5 814.3L902.7 828.7M895.5 823.7L900.5 833.8" stroke-width="0.8"/>
<rect x="852.9" y="882.2" width="7.0" height="27.4" stroke-width="0.8"/>
<path d="M858.3 882.2L859.9 885.3M853.6 882.2L859.9 894.7M852.9 890.1L859.9 904.1M852.9 899.5L858.0 909.6" stroke-width="0.8"/>
<rect x="895.5" y="882.2" width="7.2" height="27.4" stroke-width="0.8"/>
<path d="M901.0 882.2L902.7 885.7M896.2 882.2L902.7 895.1M895.5 890.1L902.7 904.5M895.5 899.5L900.5 909.6" stroke-width="0.8"/>
<rect x="852.9" y="958.5" width="7.0" height="27.4" stroke-width="0.8"/>
<path d="M858.3 958.5L859.9 961.6M853.6 958.5L859.9 971.0M852.9 966.4L859.9 980.4M852.9 975.8L858.0 985.9" stroke-width="0.8"/>
<rect x="895.5" y="958.5" width="7.2" height="27.4" stroke-width="0.8"/>
<path d="M901.0 958.5L902.7 962.0M896.2 958.5L902.7 971.4M895.5 966.4L902.7 980.8M895.5 975.8L900.5 985.9" stroke-width="0.8"/>
<rect x="852.9" y="1034.4" width="7.0" height="27.6" stroke-width="0.8"/>
<path d="M858.4 1034.4L859.9 1037.5M853.6 1034.4L859.9 1046.9M852.9 1042.3L859.9 1056.3M852.9 1051.7L858.0 1062.0" stroke-width="0.8"/>
<rect x="895.5" y="1034.4" width="7.2" height="27.6" stroke-width="0.8"/>
<path d="M901.0 1034.4L902.7 1037.9M896.2 1034.4L902.7 1047.3M895.5 1042.3L902.7 1056.7M895.5 1051.7L900.6 1062.0" stroke-width="0.8"/>
</g>
<text transform="translate(827.93 417.90) scale(1.036 1)" font-size="25">39</text>
<text transform="translate(904.03 417.90) scale(1.036 1)" font-size="25">39</text>
<text transform="translate(970.25 474.70) scale(1.058 1)" font-size="25.6">60</text>
<text transform="translate(971.40 788.00) scale(1.016 1)" font-size="25.6">60</text>
<text transform="translate(971.40 1099.70) scale(1.016 1)" font-size="25.6">60</text>
<g transform="translate(990 180) scale(0.06447)">
<path d="M581.6 231.0A126 126 0 0 1 798.4 231.0L1154.2 831.3A126 126 0 0 1 1045.8 1021.5L334.2 1021.5A126 126 0 0 1 225.8 831.3Z" fill="#0a0a0a"/>
<path d="M657.3 313.1A38 38 0 0 1 722.7 313.1L1045.1 857.1A38 38 0 0 1 1012.4 914.5L367.6 914.5A38 38 0 0 1 334.9 857.1Z" fill="#fff"/>
<path d="M648 400H737L722 782H663Z" fill="#0a0a0a"/><rect x="650" y="820" width="86" height="76" fill="#0a0a0a"/>
</g>
<g transform="translate(880 70) scale(0.10263)" fill="none" stroke="#111" stroke-width="9" stroke-linejoin="round">
<path d="M215 945H175Q130 945 130 900V145Q130 100 175 100H1570Q1615 100 1615 145V900Q1615 945 1570 945H345L123 1477L215 945" stroke-width="9" fill="#fff"/>
<path d="M365 918L800 700L1500 685L1506 709L1033 945L370 945Q357 931.5 365 918Z" fill="#fff" stroke-width="10"/>
<path d="M365 918L1025 918L1500 685" stroke-width="9"/>
<path d="M440 906L808 722L1430 707" stroke="#888" stroke-width="4"/>
<path d="M380 690L815 470L1520 455L1526 479L1053 719L385 717Q372 703.5 380 690Z" fill="#fff" stroke-width="10"/>
<path d="M380 690L1045 692L1520 455" stroke-width="9"/>
<path d="M455 678L823 492L1450 477" stroke="#888" stroke-width="4"/>
<path d="M400 462L875 222L1535 225L1541 249L1073 492L405 489Q392 475.5 400 462Z" fill="#fff" stroke-width="10"/>
<path d="M400 462L1065 465L1535 225" stroke-width="9"/>
<path d="M475 450L883 244L1465 247" stroke="#888" stroke-width="4"/>
<rect x="165" y="258" width="30" height="66" rx="10" fill="#111" stroke="none"/><rect x="174" y="272" width="12" height="14" fill="#bbb" stroke="none"/><rect x="174" y="296" width="12" height="14" fill="#bbb" stroke="none"/>
<rect x="206" y="258" width="30" height="66" rx="10" fill="#111" stroke="none"/><rect x="215" y="272" width="12" height="14" fill="#bbb" stroke="none"/><rect x="215" y="296" width="12" height="14" fill="#bbb" stroke="none"/>
<rect x="247" y="258" width="30" height="66" rx="10" fill="#111" stroke="none"/><rect x="256" y="272" width="12" height="14" fill="#bbb" stroke="none"/><rect x="256" y="296" width="12" height="14" fill="#bbb" stroke="none"/>
<rect x="288" y="258" width="30" height="66" rx="10" fill="#111" stroke="none"/><rect x="297" y="272" width="12" height="14" fill="#bbb" stroke="none"/><rect x="297" y="296" width="12" height="14" fill="#bbb" stroke="none"/>
<rect x="329" y="258" width="30" height="66" rx="10" fill="#111" stroke="none"/><rect x="338" y="272" width="12" height="14" fill="#bbb" stroke="none"/><rect x="338" y="296" width="12" height="14" fill="#bbb" stroke="none"/>
<rect x="370" y="258" width="30" height="66" rx="10" fill="#111" stroke="none"/><rect x="379" y="272" width="12" height="14" fill="#bbb" stroke="none"/><rect x="379" y="296" width="12" height="14" fill="#bbb" stroke="none"/>
<rect x="165" y="340" width="30" height="66" rx="10" fill="#111" stroke="none"/><rect x="174" y="354" width="12" height="14" fill="#bbb" stroke="none"/><rect x="174" y="378" width="12" height="14" fill="#bbb" stroke="none"/>
<rect x="206" y="340" width="30" height="66" rx="10" fill="#111" stroke="none"/><rect x="215" y="354" width="12" height="14" fill="#bbb" stroke="none"/><rect x="215" y="378" width="12" height="14" fill="#bbb" stroke="none"/>
<rect x="247" y="340" width="30" height="66" rx="10" fill="#111" stroke="none"/><rect x="256" y="354" width="12" height="14" fill="#bbb" stroke="none"/><rect x="256" y="378" width="12" height="14" fill="#bbb" stroke="none"/>
<rect x="288" y="340" width="30" height="66" rx="10" fill="#111" stroke="none"/><rect x="297" y="354" width="12" height="14" fill="#bbb" stroke="none"/><rect x="297" y="378" width="12" height="14" fill="#bbb" stroke="none"/>
<rect x="329" y="340" width="30" height="66" rx="10" fill="#111" stroke="none"/><rect x="338" y="354" width="12" height="14" fill="#bbb" stroke="none"/><rect x="338" y="378" width="12" height="14" fill="#bbb" stroke="none"/>
<rect x="370" y="340" width="30" height="66" rx="10" fill="#111" stroke="none"/><rect x="379" y="354" width="12" height="14" fill="#bbb" stroke="none"/><rect x="379" y="378" width="12" height="14" fill="#bbb" stroke="none"/>
</g>
<text class="s" transform="translate(902.98 90.00) scale(1.031 1)" font-size="8.6" font-weight="bold">Опционально: Полки</text>
<g transform="translate(815 150) scale(0.10879)" fill="none" stroke="#111" stroke-width="11" stroke-linejoin="round" stroke-linecap="round">
</g>
<g transform="translate(835 155) scale(0.04836)" fill="none" stroke="#111" stroke-width="25" stroke-linejoin="round" stroke-linecap="round">
<path d="M250 430Q190 340 185 250Q200 150 290 115Q400 90 480 160L535 170L525 225L510 240L515 300Q535 340 520 380L485 410L490 460L440 465L400 460L405 590Q460 660 450 800L440 990L460 1250L95 1250L110 1000Q80 800 95 680Q120 560 235 490L255 430Z" fill="#fff" stroke="none"/>
<path d="M250 430Q190 340 185 250Q200 150 290 115Q400 90 480 160L535 170L525 225L480 200Q420 200 395 240Q380 270 375 310Q350 320 340 290Q320 270 300 300Q295 360 310 395Q290 440 250 430" stroke-width="30"/>
<path d="M510 240L515 300Q535 340 520 380L485 410L490 460L440 465Q380 450 355 400L350 380"/>
<path d="M415 300Q450 268 505 285L510 315Q460 335 415 300Z" fill="#111"/><path d="M505 296L610 298" stroke-width="16"/>
<path d="M255 430L235 490M400 460L405 590"/>
<path d="M235 490Q120 560 95 680Q80 800 110 1000L95 1250M235 490Q340 530 400 590Q460 660 450 800L440 990"/>
<path d="M150 620Q200 555 270 570Q340 600 365 700L380 770L190 815Q150 720 150 620M190 815Q260 960 360 1060L470 1170L560 1215M380 770Q400 900 440 990Q520 1090 590 1135"/>
</g>
<g transform="translate(815 150) scale(0.10879)" fill="none" stroke="#111" stroke-width="11" stroke-linejoin="round" stroke-linecap="round">
<path d="M228 592L385 597M228 603L382 607"/>
<path d="M445 552Q470 540 500 565L512 585L470 600L440 585ZM455 575L470 600" fill="#fff"/>
<path d="M228 600L246 690L240 930L165 1012M385 600L420 820L335 945L338 1105M385 600L330 830L325 1100M240 930L252 1108"/>
<path d="M130 1025L178 1012L238 1075L232 1152L205 1150ZM150 1030L215 1120M250 1112Q330 1095 400 1125L405 1142L252 1152Z" fill="#fff"/>
<path d="M200 1060L235 1125L225 1150M260 1140L400 1140" stroke-width="14"/>
<path d="M580 690L1085 712L1092 880L630 950Z" fill="#fff" stroke-width="13"/>
<path d="M652 693L696 940M724 696L762 930M796 699L828 920M869 703L894 910M941 706L960 900M1013 709L1026 890M592 755L1087 754M605 820L1088 796M618 885L1090 838" stroke-width="12.5"/>
<path d="M470 585L535 600Q552 610 560 640L690 950M545 612L680 955M630 950L760 950L755 970L625 975Q600 990 612 1015Q620 1032 650 1030L1040 1028Q1070 1040 1085 1080M640 1012L1045 1012Q1080 1030 1092 1072" stroke-width="8"/>
<circle cx="668" cy="1095" r="45" fill="#fff" stroke-width="9"/><circle cx="668" cy="1095" r="14" stroke-width="8"/>
<circle cx="1015" cy="1095" r="45" fill="#fff" stroke-width="9"/><circle cx="1015" cy="1095" r="14" stroke-width="8"/>
<path d="M668 1030V1050M1015 1030V1050" stroke-width="8"/>
</g>
<g transform="translate(655.00 405.00) scale(0.07651) translate(497 345) scale(1 1) translate(-497 -345)" stroke="#1a1a1a" stroke-width="9" stroke-linejoin="round" fill="none">
<path d="M120 120.0L210 88.0L600 282.0V312L500 345V930L120 745Z" fill="#fff" stroke-width="10"/>
<path d="M120 120.0L525 322.0L600 290.0M525 322.0V345" stroke-width="10"/>
<path d="M497 345L590 318L975 505V1130L885 1165L497 975Z" fill="#c5c6c8" stroke-width="11"/>
<path d="M497 345L885 545L975 505M885 545V1165" stroke-width="11"/>
<path d="M585 512Q560 512 560 545V880Q560 905 590 915L650 935Q690 945 690 905V590Q690 560 660 545Z" fill="#fff" stroke-width="14"/>
<path d="M610 560Q640 575 650 600V880" stroke-width="10" stroke="#333"/>
<path d="M575 640Q610 650 615 690Q615 740 570 760Q585 800 575 830" stroke-width="12"/>
<circle cx="592" cy="562" r="27" fill="#1a1a1a" stroke="none"/><circle cx="595" cy="872" r="29" fill="#1a1a1a" stroke="none"/>
<path d="M520 740Q540 790 580 800" stroke-width="14"/>
<path d="M150 478L235 440L290 470V380L305 368L395 415V500L460 560V600L440 612V700L380 740L330 715L150 600Z" fill="#fff" stroke-width="14"/>
<path d="M285 378L395 425M315 395V480M352 412V497" stroke-width="17"/>
<path d="M150 478L440 612" stroke-width="14"/>
<path d="M150 515L440 650L440 700L380 740L150 610Z" fill="#1a1a1a" stroke="none"/>
<path d="M205 560L232 573V604L205 591ZM262 590L292 604V640L262 626ZM345 672L378 688V712L345 697Z" fill="#fff" stroke="none"/>
<circle cx="172" cy="548" r="26" fill="#1a1a1a" stroke="none"/>
<path d="M395 500L470 565V600L395 560Z" fill="#1a1a1a" stroke="none"/>
<path d="M440 640L575 648V715L440 722Z" fill="#fff" stroke-width="13"/>
<path d="M440 640L575 648" stroke-width="18"/><path d="M440 722L575 715" stroke-width="16"/>
<path d="M575 648L605 665V700L575 715" stroke-width="10"/>
</g>
<g transform="translate(530 395) scale(0.12542)" stroke="#333" stroke-width="5" stroke-linejoin="round" fill="none">
<path d="M155 200L430 105L583 182V720L530 700M583 182L305 280M155 200L300 280M155 200V740L262 795M548 205V700"/>
<path d="M252 298L528 207V742L265 838Z" fill="#c5c6c8" stroke="#1a1a1a" stroke-width="8"/>
<path d="M252 298L528 207" stroke="#111" stroke-width="15"/><path d="M256 298L265 838" stroke="#111" stroke-width="17"/>
<path d="M292.0 568.0L377.9 576.7L370.5 555.9L439.6 531.3L447.0 552.0L508.0 491.0L422.1 482.3L429.5 503.1L360.4 527.7L353.0 507.0Z" fill="#1a1a1a" stroke="none"/>
</g>
<g transform="translate(530 395) scale(0.12542)" stroke="#1a1a1a" stroke-width="6" stroke-linejoin="round" stroke-linecap="round" fill="none">
<ellipse cx="880" cy="553" rx="75" ry="150" transform="rotate(-6 880 553)" stroke-width="6.5"/>
<ellipse cx="890" cy="559" rx="61" ry="140" transform="rotate(-6 880 553)" stroke-width="5.5"/>
<path d="M750 567L1048 458Q1086 496.5 1078 545L750 660Z" fill="#fff" stroke="none"/>
<path d="M750 567L1048 458Q1086 496.5 1078 545L750 660" stroke-width="7"/>
<path d="M1048 458Q1023 506.5 1078 545" stroke-width="5"/>
<path d="M1075.0 467.5L1200 450L1204 468L1085.0 525.5Z" fill="#1a1a1a" stroke="none"/>
<path d="M1095.0 491.5L1180 460" stroke="#fff" stroke-width="7"/>
<path d="M818 425Q880 370 935 470" stroke-width="27" stroke-linecap="butt"/>
<path d="M972 440L945 520L880 468Z" fill="#1a1a1a" stroke="none"/>
<path d="M935 695Q1010 660 985 590" stroke-width="27" stroke-linecap="butt"/>
<path d="M926 612L955 535L1024 584Z" fill="#1a1a1a" stroke="none"/>
</g>
<g transform="translate(655.25 520.00) scale(0.07651) translate(497 345) scale(1.01 1.06) translate(-497 -345)" stroke="#1a1a1a" stroke-width="9" stroke-linejoin="round" fill="none">
<path d="M120 120.0L210 88.0L600 282.0V312L500 345V930L120 745Z" fill="#fff" stroke-width="10"/>
<path d="M120 120.0L525 322.0L600 290.0M525 322.0V345" stroke-width="10"/>
<path d="M497 345L590 318L975 505V1130L885 1165L497 975Z" fill="#c5c6c8" stroke-width="11"/>
<path d="M497 345L885 545L975 505M885 545V1165" stroke-width="11"/>
<path d="M585 512Q560 512 560 545V880Q560 905 590 915L650 935Q690 945 690 905V590Q690 560 660 545Z" fill="#fff" stroke-width="14"/>
<path d="M610 560Q640 575 650 600V880" stroke-width="10" stroke="#333"/>
<path d="M575 640Q610 650 615 690Q615 740 570 760Q585 800 575 830" stroke-width="12"/>
<circle cx="592" cy="562" r="27" fill="#1a1a1a" stroke="none"/><circle cx="595" cy="872" r="29" fill="#1a1a1a" stroke="none"/>
<path d="M520 740Q540 790 580 800" stroke-width="14"/>
<path d="M150 478L235 440L290 470V380L305 368L395 415V500L460 560V600L440 612V700L380 740L330 715L150 600Z" fill="#fff" stroke-width="14"/>
<path d="M285 378L395 425M315 395V480M352 412V497" stroke-width="17"/>
<path d="M150 478L440 612" stroke-width="14"/>
<path d="M150 515L440 650L440 700L380 740L150 610Z" fill="#1a1a1a" stroke="none"/>
<path d="M205 560L232 573V604L205 591ZM262 590L292 604V640L262 626ZM345 672L378 688V712L345 697Z" fill="#fff" stroke="none"/>
<circle cx="172" cy="548" r="26" fill="#1a1a1a" stroke="none"/>
<path d="M395 500L470 565V600L395 560Z" fill="#1a1a1a" stroke="none"/>
<path d="M440 640L575 648V715L440 722Z" fill="#fff" stroke-width="13"/>
<path d="M440 640L575 648" stroke-width="18"/><path d="M440 722L575 715" stroke-width="16"/>
<path d="M575 648L605 665V700L575 715" stroke-width="10"/>
</g>
<g transform="translate(525 510) scale(0.12827)" stroke="#333" stroke-width="5" stroke-linejoin="round" fill="none">
<path d="M112 185L385 88L545 165V215M112 185L262 262L545 165M112 185V720L262 795L325 815M262 262V795M290 270V780M290 640L325 628M290 270L370 243M370 243V262"/>
<path d="M320 290L598 198V735L325 828Z" fill="#c5c6c8" stroke="#1a1a1a" stroke-width="8"/>
<path d="M320 290L598 198" stroke="#111" stroke-width="15"/><path d="M322 290L327 828" stroke="#111" stroke-width="17"/><path d="M598 198V735" stroke="#111" stroke-width="8"/>
<path d="M232.0 512.0L278.8 576.9L288.3 559.3L345.5 590.1L336.0 607.7L416.0 611.0L369.2 546.1L359.7 563.7L302.5 532.9L312.0 515.3Z" fill="#1a1a1a" stroke="none"/>
</g>
<g transform="translate(525 510) scale(0.12827)" stroke="#1a1a1a" stroke-width="6" stroke-linejoin="round" stroke-linecap="round" fill="none">
<ellipse cx="790" cy="505" rx="72" ry="150" transform="rotate(-6 790 505)" stroke-width="6.5"/>
<ellipse cx="800" cy="511" rx="58" ry="140" transform="rotate(-6 790 505)" stroke-width="5.5"/>
<path d="M655 520L950 412Q988 450.0 985 498L655 612Z" fill="#fff" stroke="none"/>
<path d="M655 520L950 412Q988 450.0 985 498L655 612" stroke-width="7"/>
<path d="M950 412Q925 460.0 985 498" stroke-width="5"/>
<path d="M979.5 421.0L1105 390L1109 408L989.5 479.0Z" fill="#1a1a1a" stroke="none"/>
<path d="M999.5 445.0L1085 400" stroke="#fff" stroke-width="7"/>
<path d="M728 375Q790 325 845 420" stroke-width="27" stroke-linecap="butt"/>
<path d="M880 395L852 470L790 420Z" fill="#1a1a1a" stroke="none"/>
<path d="M840 650Q915 615 890 548" stroke-width="27" stroke-linecap="butt"/>
<path d="M831 570L860 493L929 542Z" fill="#1a1a1a" stroke="none"/>
</g>
<g transform="translate(655.00 633.70) scale(0.07651) translate(497 345) scale(1.088 1.11) translate(-497 -345)" stroke="#1a1a1a" stroke-width="9" stroke-linejoin="round" fill="none">
<path d="M120 100.395L210 68.395L600 262.395V312L500 345V930L120 745Z" fill="#fff" stroke-width="10"/>
<path d="M120 100.395L525 302.395L600 270.395M525 302.395V345" stroke-width="10"/>
<path d="M497 345L590 318L975 505V1130L885 1165L497 975Z" fill="#c5c6c8" stroke-width="11"/>
<path d="M497 345L885 545L975 505M885 545V1165" stroke-width="11"/>
<path d="M585 512Q560 512 560 545V880Q560 905 590 915L650 935Q690 945 690 905V590Q690 560 660 545Z" fill="#fff" stroke-width="14"/>
<path d="M610 560Q640 575 650 600V880" stroke-width="10" stroke="#333"/>
<path d="M575 640Q610 650 615 690Q615 740 570 760Q585 800 575 830" stroke-width="12"/>
<circle cx="592" cy="562" r="27" fill="#1a1a1a" stroke="none"/><circle cx="595" cy="872" r="29" fill="#1a1a1a" stroke="none"/>
<path d="M520 740Q540 790 580 800" stroke-width="14"/>
<path d="M150 478L235 440L290 470V380L305 368L395 415V500L460 560V600L440 612V700L380 740L330 715L150 600Z" fill="#fff" stroke-width="14"/>
<path d="M285 378L395 425M315 395V480M352 412V497" stroke-width="17"/>
<path d="M150 478L440 612" stroke-width="14"/>
<path d="M150 515L440 650L440 700L380 740L150 610Z" fill="#1a1a1a" stroke="none"/>
<path d="M205 560L232 573V604L205 591ZM262 590L292 604V640L262 626ZM345 672L378 688V712L345 697Z" fill="#fff" stroke="none"/>
<circle cx="172" cy="548" r="26" fill="#1a1a1a" stroke="none"/>
<path d="M395 500L470 565V600L395 560Z" fill="#1a1a1a" stroke="none"/>
<path d="M440 640L575 648V715L440 722Z" fill="#fff" stroke-width="13"/>
<path d="M440 640L575 648" stroke-width="18"/><path d="M440 722L575 715" stroke-width="16"/>
<path d="M575 648L605 665V700L575 715" stroke-width="10"/>
</g>
<g transform="translate(525 628) scale(0.12827)" stroke="#333" stroke-width="5" stroke-linejoin="round" fill="none">
<path d="M118 160L415 55L470 82M118 160L285 245M118 160V745L290 830V750M290 830L580 728V660M305 752V805L565 715V665"/>
<path d="M285 172L590 72V662L295 750Z" fill="#c5c6c8" stroke="#1a1a1a" stroke-width="8"/>
<path d="M285 172L590 72" stroke="#111" stroke-width="15"/><path d="M288 172L296 750" stroke="#111" stroke-width="17"/>
<path d="M450.0 312.0L406.0 396.0L434.0 396.0L434.0 447.0L406.0 447.0L450.0 531.0L494.0 447.0L466.0 447.0L466.0 396.0L494.0 396.0Z" fill="#1a1a1a" stroke="none"/>
</g>
<g transform="translate(525 628) scale(0.12827)" stroke="#1a1a1a" stroke-width="6" stroke-linejoin="round" stroke-linecap="round" fill="none">
<ellipse cx="850" cy="430" rx="72" ry="150" transform="rotate(-6 850 430)" stroke-width="6.5"/>
<ellipse cx="860" cy="436" rx="58" ry="140" transform="rotate(-6 850 430)" stroke-width="5.5"/>
<path d="M712 445L1030 330Q1068 369.0 1065 418L712 548Z" fill="#fff" stroke="none"/>
<path d="M712 445L1030 330Q1068 369.0 1065 418L712 548" stroke-width="7"/>
<path d="M1030 330Q1005 379.0 1065 418" stroke-width="5"/>
<path d="M1059.5 340.0L1190 314L1194 332L1069.5 398.0Z" fill="#1a1a1a" stroke="none"/>
<path d="M1079.5 364.0L1170 324" stroke="#fff" stroke-width="7"/>
<path d="M795 290Q860 240 912 335" stroke-width="27" stroke-linecap="butt"/>
<path d="M948 312L920 388L858 338Z" fill="#1a1a1a" stroke="none"/>
<path d="M905 575Q980 540 955 470" stroke-width="27" stroke-linecap="butt"/>
<path d="M896 492L925 415L994 464Z" fill="#1a1a1a" stroke="none"/>
</g>
<g transform="translate(530 50) scale(0.14903)" fill="none" stroke="#111" stroke-width="8.2" stroke-linejoin="round" stroke-linecap="round">
<path d="M135 60Q200 180 350 290L380 300Q420 350 455 360M455 50Q480 130 545 210L555 245"/>
<path d="M555 245Q480 280 460 360Q500 420 520 450Q540 530 555 600L640 595L700 610L730 590Q750 570 755 535L770 550L800 540L795 515L760 500L740 440L760 430Q720 380 650 355Q600 320 555 245Z" fill="#fff"/>
<path d="M740 440L680 455Q660 470 670 490L685 520L720 545L755 530M570 570L640 590M580 540L650 575M585 500L640 540M560 600Q600 580 660 600"/>
<path d="M740 440L912 384L948 434L760 500Q730 470 740 440Z" fill="#fff"/><path d="M750 455L918 400"/>
<path d="M755 235L790 222L805 212L840 200Q870 215 900 250Q980 330 1020 430L1055 540L1075 560L1085 590L1000 625L985 600L1000 570L960 470Q900 390 870 340Q800 250 755 235Z" fill="#fff"/>
<path d="M805 212Q850 240 890 272M790 222Q850 260 885 300M975 480L1010 570M1000 465L1035 555M1000 575L1060 548M960 470L1020 430M880 395Q905 410 900 450"/>
<path d="M1003 695H1025L1020 885L1013 912L1007 885Z" fill="#222" stroke-width="4"/><ellipse cx="1013" cy="690" rx="18" ry="8" fill="#fff" stroke-width="6"/><path d="M1013 912V1022" stroke-width="4"/>
<path d="M845 1005Q880 975 905 978L1060 1020Q1080 1030 1060 1050L1010 1085L860 1045Q830 1030 845 1005Z" fill="#fff"/>
<path d="M860 1030L1020 1070M895 1002L1020 1034" /><ellipse cx="895" cy="1000" rx="24" ry="11" fill="#333" transform="rotate(14 895 1000)"/><ellipse cx="1020" cy="1030" rx="24" ry="11" fill="#333" transform="rotate(14 1020 1030)"/>
<path d="M145 968L220 935L1090 1190M145 968L850 1185M145 968L155 1180"/>
</g>
<g transform="translate(530 260) scale(0.13398)" fill="none" stroke="#111" stroke-width="9.5" stroke-linejoin="round" stroke-linecap="round">
<path d="M290 300L800 475" stroke-width="70" stroke="#111" stroke-linecap="butt"/><path d="M290 300L800 475" stroke-width="54" stroke="#fff" stroke-linecap="butt"/>
<ellipse cx="292" cy="297" rx="26" ry="54" transform="rotate(18.9 292 297)" fill="#fff" stroke-width="19"/>
<ellipse cx="304" cy="301" rx="17" ry="42" transform="rotate(18.9 304 301)" fill="#fff" stroke-width="8"/>
<ellipse cx="346" cy="315" rx="26" ry="54" transform="rotate(18.9 346 315)" fill="#fff" stroke-width="19"/>
<ellipse cx="358" cy="319" rx="17" ry="42" transform="rotate(18.9 358 319)" fill="#fff" stroke-width="8"/>
<ellipse cx="399" cy="334" rx="26" ry="54" transform="rotate(18.9 399 334)" fill="#fff" stroke-width="19"/>
<ellipse cx="411" cy="338" rx="17" ry="42" transform="rotate(18.9 411 338)" fill="#fff" stroke-width="8"/>
<ellipse cx="453" cy="352" rx="26" ry="54" transform="rotate(18.9 453 352)" fill="#fff" stroke-width="19"/>
<ellipse cx="465" cy="356" rx="17" ry="42" transform="rotate(18.9 465 356)" fill="#fff" stroke-width="8"/>
<ellipse cx="507" cy="370" rx="26" ry="54" transform="rotate(18.9 507 370)" fill="#fff" stroke-width="19"/>
<ellipse cx="519" cy="374" rx="17" ry="42" transform="rotate(18.9 519 374)" fill="#fff" stroke-width="8"/>
<ellipse cx="560" cy="389" rx="26" ry="54" transform="rotate(18.9 560 389)" fill="#fff" stroke-width="19"/>
<ellipse cx="572" cy="393" rx="17" ry="42" transform="rotate(18.9 572 393)" fill="#fff" stroke-width="8"/>
<ellipse cx="614" cy="407" rx="26" ry="54" transform="rotate(18.9 614 407)" fill="#fff" stroke-width="19"/>
<ellipse cx="626" cy="411" rx="17" ry="42" transform="rotate(18.9 626 411)" fill="#fff" stroke-width="8"/>
<ellipse cx="668" cy="425" rx="26" ry="54" transform="rotate(18.9 668 425)" fill="#fff" stroke-width="19"/>
<ellipse cx="680" cy="429" rx="17" ry="42" transform="rotate(18.9 680 429)" fill="#fff" stroke-width="8"/>
<ellipse cx="721" cy="444" rx="26" ry="54" transform="rotate(18.9 721 444)" fill="#fff" stroke-width="19"/>
<ellipse cx="733" cy="448" rx="17" ry="42" transform="rotate(18.9 733 448)" fill="#fff" stroke-width="8"/>
<ellipse cx="775" cy="462" rx="26" ry="54" transform="rotate(18.9 775 462)" fill="#fff" stroke-width="19"/>
<ellipse cx="787" cy="466" rx="17" ry="42" transform="rotate(18.9 787 466)" fill="#fff" stroke-width="8"/>
<path d="M828 422L1000 470L960 602L808 538Z" fill="#fff" stroke="none"/><path d="M828 422L1000 470M808 538L960 602"/><ellipse cx="815" cy="480" rx="22" ry="58" transform="rotate(18 815 480)" fill="#fff"/>
<ellipse cx="1010" cy="540" rx="54" ry="92" transform="rotate(16 1010 540)" fill="#fff" stroke-width="14"/><ellipse cx="1000" cy="538" rx="46" ry="84" transform="rotate(16 1000 538)" stroke-width="6"/>
<circle cx="1018" cy="546" r="27" stroke-width="7"/><path d="M1000 546L1010 528H1028L1038 546L1028 564H1010Z" stroke-width="5"/>
<path d="M1105 738Q1170 760 1230 710Q1262 680 1268 640M1150 748Q1200 745 1250 700" stroke-width="6"/>
<path d="M1130 565L1330 640L1310 290Q1310 235 1370 238L1590 318Q1605 345 1565 385L1385 320L1410 640Q1400 700 1340 700L1130 610Q1115 590 1130 565Z" fill="#fff"/>
<path d="M1140 580L1345 660L1325 300Q1330 260 1375 262L1575 332M1345 660Q1380 655 1395 640M1360 300L1385 320M1350 270L1378 640" stroke-width="6"/>
<ellipse cx="1572" cy="350" rx="22" ry="36" transform="rotate(20 1572 350)" fill="#fff"/>
<path d="M1270 520L1300 528V610M1270 520V580" stroke-width="6"/>
<path d="M1120 738Q1040 640 1110 500Q1125 480 1150 478" stroke-width="34" stroke-linecap="butt"/><path d="M1072 470L1192 440L1200 520Z" fill="#111" stroke="none"/>
</g>
<g id="explode" fill="none" stroke="#151515" stroke-width="1.15" stroke-linejoin="round" stroke-linecap="round">
<style>.w{fill:#fff;stroke:#151515;stroke-width:1.15;stroke-linejoin:round}</style>
<path d="M1400.1 140L1603.7 141.7V331L1400.1 300Z" fill="#fff" stroke="none"/>
<path d="M1400.1 148.0L1400.1 216.0"/>
<path d="M1549.1 134.5L1603.7 141.7L1603.7 331.3"/>
<path d="M1464.8 308.5L1603.8 326.8"/>
<path d="M1464.8 345.4L1496.1 349.8"/>
<path d="M1464.8 346.9L1496.1 351.3"/>
<path class="w" d="M1281.9 128.5L1364.9 94.7L1570.1 122.1L1570.1 126.1L1486.2 159.7L1281.9 133.2Z"/>
<path d="M1281.9 128.5L1486.2 154.9L1570.1 122.1"/>
<path d="M1486.2 154.9L1486.2 159.7"/>
<path class="w" d="M1293.9 244.0L1372.4 212.1L1566.4 238.2L1567.4 242.6L1488.5 273.0L1293.9 248.3Z"/>
<path d="M1293.9 244.0L1488.5 268.3L1566.4 238.2"/>
<path d="M1488.5 268.3L1488.5 273.0"/>
<path d="M1404.9 264.7L1555.5 283.9V286.6L1404.9 267.2Z" fill="#fff" stroke="none"/>
<path d="M1404.9 264.8L1555.5 284" stroke-width="1.9"/><path d="M1404.9 267.3L1555.5 286.7" stroke-width="1"/><path d="M1404.9 264.5V267.5" stroke-width="1"/>
<path class="w" d="M1377.2 268.4L1530.0 289.2L1532.5 289.9L1532.5 297.4L1530.0 297.8L1377.2 276.5Z"/>
<path d="M1377.2 268.6L1530 289.4" stroke-width="1.9"/><path d="M1377.2 276.3L1530 297.3" stroke-width="1.8"/>
<path d="M1377.2 270.4L1530.0 291.1"/>
<path d="M1377.2 274.8L1530.0 295.6"/>
<path d="M1530.0 289.2L1530.0 297.8"/>
<path class="w" d="M1206.7 303.3L1291.0 268.9L1291.0 862.0L1206.7 895.7Z"/>
<path class="w" d="M1202.3 301.7L1286.5 268.0L1291.0 268.9L1206.7 303.3Z"/>
<path class="w" d="M1202.3 301.7L1206.7 303.3L1206.7 895.7L1202.3 895.7Z"/>
<path class="w" d="M1225.9 314.5L1338.5 328.7L1338.5 900.7L1225.9 885.1Z"/>
<path d="M1335.7 328.4L1335.7 900.3"/>
<path d="M1225.9 314.5L1338.5 328.7" stroke-width="1.7"/><path d="M1225.9 314.5V885.1" stroke-width="1.3"/>
<circle cx="1217.4" cy="322.8" r="0.6" fill="#222" stroke="none"/>
<circle cx="1217.4" cy="332.2" r="0.6" fill="#222" stroke="none"/>
<circle cx="1217.4" cy="579.9" r="0.6" fill="#222" stroke="none"/>
<circle cx="1217.4" cy="588.8" r="0.6" fill="#222" stroke="none"/>
<circle cx="1217.4" cy="618" r="0.6" fill="#222" stroke="none"/>
<circle cx="1217.4" cy="746.6" r="0.6" fill="#222" stroke="none"/>
<circle cx="1217.4" cy="836.3" r="0.6" fill="#222" stroke="none"/>
<circle cx="1217.4" cy="845.7" r="0.6" fill="#222" stroke="none"/>
<circle cx="1217.4" cy="369.4" r="1" fill="#333" stroke="none"/>
<circle cx="1217.4" cy="867.9" r="1" fill="#333" stroke="none"/>
<g stroke-width="0.8"><path class="w" d="M1248.2 586.3L1252 583.5L1257.2 585L1255.6 587.5V623.5L1257.2 622.6L1255.6 625L1248.2 623.6Z" stroke-width="0.8"/><path d="M1252 587V623.8M1248.2 586.3L1255.6 587.5M1248.2 621.6L1255.6 622.8"/></g>
<path class="w" d="M1400.4 300.3L1405.3 300.8L1405.3 415.9L1400.4 415.2Z"/>
<path class="w" d="M1400.6 484.6L1405.4 485.3L1414.3 545.5L1414.3 601.2L1400.6 598.5Z"/>
<path d="M1414.3 545.5L1414.3 726.5"/>
<path class="w" d="M1404.2 634.0L1414.3 635.7L1414.3 638.3L1404.2 636.5Z"/>
<path class="w" d="M1400.6 669.4L1414.3 671.2L1414.3 726.5L1405.4 784.9L1400.6 784.2Z"/>
<path class="w" d="M1400.4 853.2L1405.3 853.7L1405.3 969.3L1400.4 968.4Z"/>
<path class="w" d="M1405.4 283.1L1464.8 291.3L1464.8 550.6L1405.4 542.1Z"/>
<path d="M1464.6 291.3V550.6" stroke-width="1.8"/><path d="M1405.4 283.1L1464.8 291.3" stroke-width="1.6"/>
<path class="w" d="M1405.4 726.2L1464.8 734.2L1464.6 993.0L1405.4 985.8Z"/>
<path d="M1464.6 734.2V993" stroke-width="1.8"/>
<path d="M1495.6 349.8L1495.6 921.0"/>
<path d="M1498.5 350.2L1498.5 919.5"/>
<path d="M1464.5 916.8L1495.9 921.2"/>
<path d="M1498.7 427.8L1560.6 435.5"/>
<path d="M1498.7 497.5L1560.6 505.3"/>
<path d="M1498.7 612.6L1560.6 620.4"/>
<path d="M1498.7 681.7L1560.6 689.4"/>
<path d="M1498.7 796.7L1560.6 804.5"/>
<path d="M1498.5 462.6L1500.5 462.9L1500.5 466.6L1498.5 466.3"/>
<path d="M1498.5 647.0L1500.5 647.3L1500.5 651.0L1498.5 650.7"/>
<path class="w" d="M1565.3 349.8L1649.9 316.7L1649.9 910.0L1565.4 942.8Z"/>
<path class="w" d="M1560.5 348.6L1645.1 315.2L1649.9 316.7L1565.3 349.8Z"/>
<path class="w" d="M1560.5 348.6L1565.3 349.8L1565.4 942.8L1561.0 941.9Z"/>
<path class="w" d="M1327.5 1049.0L1327.5 1062.1L1522.7 1087.6L1524.5 1086.7L1524.5 1065.2L1512.7 1063.0Z"/>
<path d="M1522.7 1066.3L1522.7 1087.6"/>
<path d="M1522.7 1066.3L1524.5 1065.2"/>
<path class="w" d="M1293.4 1042.0L1372.2 1010.4L1567.8 1037.1L1567.8 1040.7L1488.0 1072.1L1293.4 1046.2Z"/>
<path d="M1293.4 1042.0L1488.0 1067.5L1567.8 1037.1"/>
<path d="M1488.0 1067.5L1488.0 1072.1"/>
<g stroke="#27888f" stroke-width="1.1">
<path d="M1295.0 91.0L1295.0 123.9"/>
<path d="M1359.8 65.5L1359.8 98.4"/>
<path d="M1494.4 116.6L1494.4 150.4"/>
<path d="M1558.8 92.0L1558.8 124.3"/>
<path d="M1292.8 134.0L1215.6 297.6"/>
<path d="M1342.1 141.3L1252.0 316.6"/>
<path d="M1295.4 248.9L1280.3 272.8"/>
<path d="M1340.6 255.6L1295.7 322.4"/>
<path d="M1494.4 155.9L1574.1 344.5"/>
<path d="M1559.8 130.5L1639.2 318.8"/>
<path d="M1558.7 243.4L1603.8 330.3"/>
<path d="M1493.5 269.1L1560.9 394.1"/>
<path d="M1180.1 363.8L1202.3 367.1"/>
<path d="M1217.4 369.4L1225.9 356.7"/>
<path d="M1180.1 862.8L1202.3 866.0"/>
<path d="M1257.0 584.3L1328.8 595.5"/>
<path d="M1257.0 621.2L1328.8 631.8"/>
<path d="M1640.8 390.5L1674.6 395.6"/>
<path d="M1576.5 415.9L1610.3 421.0"/>
<path d="M1640.7 889.3L1675.3 894.2"/>
<path d="M1576.0 915.3L1610.6 919.9"/>
<path d="M1607.9 915.3L1641.6 920.3"/>
<path d="M1217.4 867.9L1298.0 1040.0"/>
<path d="M1258.2 890.1L1319.6 1030.1"/>
<path d="M1308.2 896.6L1363.4 1013.7"/>
<path d="M1561.0 936.6L1493.6 1066.6"/>
<path d="M1594.6 931.8L1522.8 1075.4"/>
<path d="M1619.5 922.1L1559.2 1040.9"/>
</g>
<circle cx="1328.8" cy="595.5" r="1.25" fill="#2b5258" stroke="none"/>
<circle cx="1328.8" cy="631.8" r="1.25" fill="#2b5258" stroke="none"/>
<circle cx="1640.8" cy="390.5" r="1.25" fill="#2b5258" stroke="none"/>
<circle cx="1576.5" cy="415.9" r="1.25" fill="#2b5258" stroke="none"/>
<circle cx="1640.7" cy="889.3" r="1.25" fill="#2b5258" stroke="none"/>
<circle cx="1576" cy="915.3" r="1.25" fill="#2b5258" stroke="none"/>
<circle cx="1607.9" cy="915.3" r="1.25" fill="#2b5258" stroke="none"/>
<rect x="1293.4" y="76.5" width="3.2" height="4.2" rx="1" fill="#fff" stroke="#222" stroke-width="0.8"/><rect x="1293.9" y="80.7" width="2.2" height="10.3" fill="#555" stroke="#111" stroke-width="0.9"/>
<rect x="1358.2" y="51" width="3.2" height="4.2" rx="1" fill="#fff" stroke="#222" stroke-width="0.8"/><rect x="1358.7" y="55.2" width="2.2" height="10.3" fill="#555" stroke="#111" stroke-width="0.9"/>
<rect x="1492.8000000000002" y="103" width="3.2" height="4.2" rx="1" fill="#fff" stroke="#222" stroke-width="0.8"/><rect x="1493.3000000000002" y="107.2" width="2.2" height="10.3" fill="#555" stroke="#111" stroke-width="0.9"/>
<rect x="1557.2" y="77.4" width="3.2" height="4.2" rx="1" fill="#fff" stroke="#222" stroke-width="0.8"/><rect x="1557.7" y="81.60000000000001" width="2.2" height="10.3" fill="#555" stroke="#111" stroke-width="0.9"/>
<path d="M1167.1 362.6L1180.1 363.8" stroke="#111" stroke-width="2.7" stroke-linecap="round"/>
<ellipse cx="1168.1" cy="362.6" rx="1.25" ry="0.7" fill="#fff" stroke="none" transform="rotate(6 1168.1 362.6)"/>
<path d="M1172.6 363.1L1178.6 363.7" stroke="#ddd" stroke-width="0.6"/>
<path d="M1167.1 861.7L1180.1 862.9" stroke="#111" stroke-width="2.7" stroke-linecap="round"/>
<ellipse cx="1168.1" cy="861.8" rx="1.25" ry="0.7" fill="#fff" stroke="none" transform="rotate(6 1168.1 861.8)"/>
<path d="M1172.6 862.2L1178.6 862.8" stroke="#ddd" stroke-width="0.6"/>
<path d="M1674.6 395.6L1687.4 397.0" stroke="#111" stroke-width="2.7" stroke-linecap="round"/>
<ellipse cx="1686.4" cy="396.9" rx="1.25" ry="0.7" fill="#fff" stroke="none" transform="rotate(6 1686.4 396.9)"/>
<path d="M1676.0 395.8L1682.0 396.4" stroke="#ddd" stroke-width="0.6"/>
<path d="M1610.3 421.0L1623.4 422.4" stroke="#111" stroke-width="2.7" stroke-linecap="round"/>
<ellipse cx="1622.4" cy="422.3" rx="1.25" ry="0.7" fill="#fff" stroke="none" transform="rotate(6 1622.4 422.3)"/>
<path d="M1611.9 421.2L1617.8 421.8" stroke="#ddd" stroke-width="0.6"/>
<path d="M1675.3 894.2L1687.4 895.8" stroke="#111" stroke-width="2.7" stroke-linecap="round"/>
<ellipse cx="1686.4" cy="895.7" rx="1.25" ry="0.7" fill="#fff" stroke="none" transform="rotate(6 1686.4 895.7)"/>
<path d="M1676.4 894.3L1682.3 895.1" stroke="#ddd" stroke-width="0.6"/>
<path d="M1610.6 919.9L1622.9 920.9" stroke="#111" stroke-width="2.7" stroke-linecap="round"/>
<ellipse cx="1621.9" cy="920.8" rx="1.25" ry="0.7" fill="#fff" stroke="none" transform="rotate(6 1621.9 920.8)"/>
<path d="M1611.8 920.0L1617.7 920.5" stroke="#ddd" stroke-width="0.6"/>
<path d="M1641.6 920.3L1653.9 921.5" stroke="#111" stroke-width="2.7" stroke-linecap="round"/>
<ellipse cx="1652.9" cy="921.4" rx="1.25" ry="0.7" fill="#fff" stroke="none" transform="rotate(6 1652.9 921.4)"/>
<path d="M1642.8 920.4L1648.7 921.0" stroke="#ddd" stroke-width="0.6"/>
<ellipse cx="1198.5" cy="861.8" rx="2.6" ry="1.7" fill="#fff" stroke="#222" stroke-width="0.9" transform="rotate(10 1198.5 861.8)"/>
<g transform="rotate(-12 1281.6 958.2)"><ellipse cx="1281.6" cy="958.2" rx="5.6" ry="2.0" fill="#999" stroke="#111" stroke-width="1.4"/><path d="M1279.0 958.2H1284.1999999999998" stroke="#eee" stroke-width="0.9"/></g>
<g transform="rotate(-12 1216.7 983.5)"><ellipse cx="1216.7" cy="983.5" rx="5.6" ry="2.0" fill="#999" stroke="#111" stroke-width="1.4"/><path d="M1214.1000000000001 983.5H1219.3" stroke="#eee" stroke-width="0.9"/></g>
<g transform="rotate(-12 1561.3 1013.4)"><ellipse cx="1561.3" cy="1013.4" rx="5.6" ry="2.0" fill="#999" stroke="#111" stroke-width="1.4"/><path d="M1558.7 1013.4H1563.8999999999999" stroke="#eee" stroke-width="0.9"/></g>
<g transform="rotate(-12 1638.6 998.3)"><ellipse cx="1638.6" cy="998.3" rx="5.6" ry="2.0" fill="#999" stroke="#111" stroke-width="1.4"/><path d="M1636.0 998.3H1641.1999999999998" stroke="#eee" stroke-width="0.9"/></g>
<g transform="rotate(3 1425.1 1118.3)"><ellipse cx="1425.1" cy="1118.3" rx="5.6" ry="2.0" fill="#999" stroke="#111" stroke-width="1.4"/><path d="M1422.5 1118.3H1427.6999999999998" stroke="#eee" stroke-width="0.9"/></g>
<circle cx="1425.1" cy="106.1" r="31.05" fill="#fff" stroke="#151515" stroke-width="1.2"/>
<circle cx="1546" cy="192.5" r="31.05" fill="#fff" stroke="#151515" stroke-width="1.2"/>
<circle cx="1430.3" cy="223.6" r="31.05" fill="#fff" stroke="#151515" stroke-width="1.2"/>
<circle cx="1350.5" cy="285.8" r="31.05" fill="#fff" stroke="#151515" stroke-width="1.2"/>
<circle cx="1587.1" cy="283.8" r="31.05" fill="#fff" stroke="#151515" stroke-width="1.2"/>
<circle cx="1527.5" cy="350.9" r="31.05" fill="#fff" stroke="#151515" stroke-width="1.2"/>
<circle cx="1433.3" cy="453.1" r="31.05" fill="#fff" stroke="#151515" stroke-width="1.2"/>
<circle cx="1530.8" cy="468.7" r="31.05" fill="#fff" stroke="#151515" stroke-width="1.2"/>
<circle cx="1277.9" cy="481.2" r="31.05" fill="#fff" stroke="#151515" stroke-width="1.2"/>
<circle cx="1194" cy="528.6" r="31.05" fill="#fff" stroke="#151515" stroke-width="1.2"/>
<circle cx="1528.1" cy="572.6" r="31.05" fill="#fff" stroke="#151515" stroke-width="1.2"/>
<circle cx="1608.6" cy="590.6" r="31.05" fill="#fff" stroke="#151515" stroke-width="1.2"/>
<circle cx="1454.6" cy="634.9" r="31.05" fill="#fff" stroke="#151515" stroke-width="1.2"/>
<circle cx="1530.8" cy="653.2" r="31.05" fill="#fff" stroke="#151515" stroke-width="1.2"/>
<circle cx="1538.2" cy="749.6" r="31.05" fill="#fff" stroke="#151515" stroke-width="1.2"/>
<circle cx="1433.3" cy="845" r="31.05" fill="#fff" stroke="#151515" stroke-width="1.2"/>
<circle cx="1455" cy="1037.2" r="31.05" fill="#fff" stroke="#151515" stroke-width="1.2"/>
<circle cx="1480.4" cy="1108" r="31.05" fill="#fff" stroke="#151515" stroke-width="1.2"/>
</g>
<g stroke="#000" stroke-width="1.4" stroke-linejoin="round">
<text x="1425.1" y="121.5" font-size="44.2" text-anchor="middle" style="fill:#000">4</text>
<text x="1546.0" y="207.9" font-size="44.2" text-anchor="middle" style="fill:#000">8</text>
<text x="1430.3" y="239.0" font-size="44.2" text-anchor="middle" style="fill:#000">5</text>
<path transform="translate(1326.59 301.20) scale(0.02158 -0.02158)" d="M763 0H583V1147Q518 1085 412.5 1023T223 930V1104Q373 1174.5 485.5 1275T645 1470H763Z" fill="#000" stroke="#000" stroke-width="64.9" stroke-linejoin="round"/>
<text transform="translate(1350.81 301.20) scale(1.014 1)" font-size="44.2" style="fill:#000">0</text>
<path transform="translate(1563.69 299.20) scale(0.02158 -0.02158)" d="M763 0H583V1147Q518 1085 412.5 1023T223 930V1104Q373 1174.5 485.5 1275T645 1470H763Z" fill="#000" stroke="#000" stroke-width="64.9" stroke-linejoin="round"/>
<path transform="translate(1584.84 299.20) scale(0.02158 -0.02158)" d="M763 0H583V1147Q518 1085 412.5 1023T223 930V1104Q373 1174.5 485.5 1275T645 1470H763Z" fill="#000" stroke="#000" stroke-width="64.9" stroke-linejoin="round"/>
<text x="1527.5" y="366.3" font-size="44.2" text-anchor="middle" style="fill:#000">8</text>
<text x="1433.3" y="468.5" font-size="44.2" text-anchor="middle" style="fill:#000">9</text>
<path transform="translate(1507.39 484.10) scale(0.02158 -0.02158)" d="M763 0H583V1147Q518 1085 412.5 1023T223 930V1104Q373 1174.5 485.5 1275T645 1470H763Z" fill="#000" stroke="#000" stroke-width="64.9" stroke-linejoin="round"/>
<path transform="translate(1528.54 484.10) scale(0.02158 -0.02158)" d="M763 0H583V1147Q518 1085 412.5 1023T223 930V1104Q373 1174.5 485.5 1275T645 1470H763Z" fill="#000" stroke="#000" stroke-width="64.9" stroke-linejoin="round"/>
<text x="1277.9" y="496.6" font-size="44.2" text-anchor="middle" style="fill:#000">3</text>
<path transform="translate(1181.71 544.00) scale(0.02158 -0.02158)" d="M763 0H583V1147Q518 1085 412.5 1023T223 930V1104Q373 1174.5 485.5 1275T645 1470H763Z" fill="#000" stroke="#000" stroke-width="64.9" stroke-linejoin="round"/>
<text x="1528.1" y="588.0" font-size="44.2" text-anchor="middle" style="fill:#000">8</text>
<text x="1608.6" y="606.0" font-size="44.2" text-anchor="middle" style="fill:#000">2</text>
<text x="1454.6" y="650.3" font-size="44.2" text-anchor="middle" style="fill:#000">7</text>
<path transform="translate(1507.39 668.60) scale(0.02158 -0.02158)" d="M763 0H583V1147Q518 1085 412.5 1023T223 930V1104Q373 1174.5 485.5 1275T645 1470H763Z" fill="#000" stroke="#000" stroke-width="64.9" stroke-linejoin="round"/>
<path transform="translate(1528.54 668.60) scale(0.02158 -0.02158)" d="M763 0H583V1147Q518 1085 412.5 1023T223 930V1104Q373 1174.5 485.5 1275T645 1470H763Z" fill="#000" stroke="#000" stroke-width="64.9" stroke-linejoin="round"/>
<text x="1538.2" y="765.0" font-size="44.2" text-anchor="middle" style="fill:#000">8</text>
<text x="1433.3" y="860.4" font-size="44.2" text-anchor="middle" style="fill:#000">9</text>
<text x="1455.0" y="1052.6" font-size="44.2" text-anchor="middle" style="fill:#000">5</text>
<text x="1480.4" y="1123.4" font-size="44.2" text-anchor="middle" style="fill:#000">6</text>
</g>
</svg>
</body></html>
